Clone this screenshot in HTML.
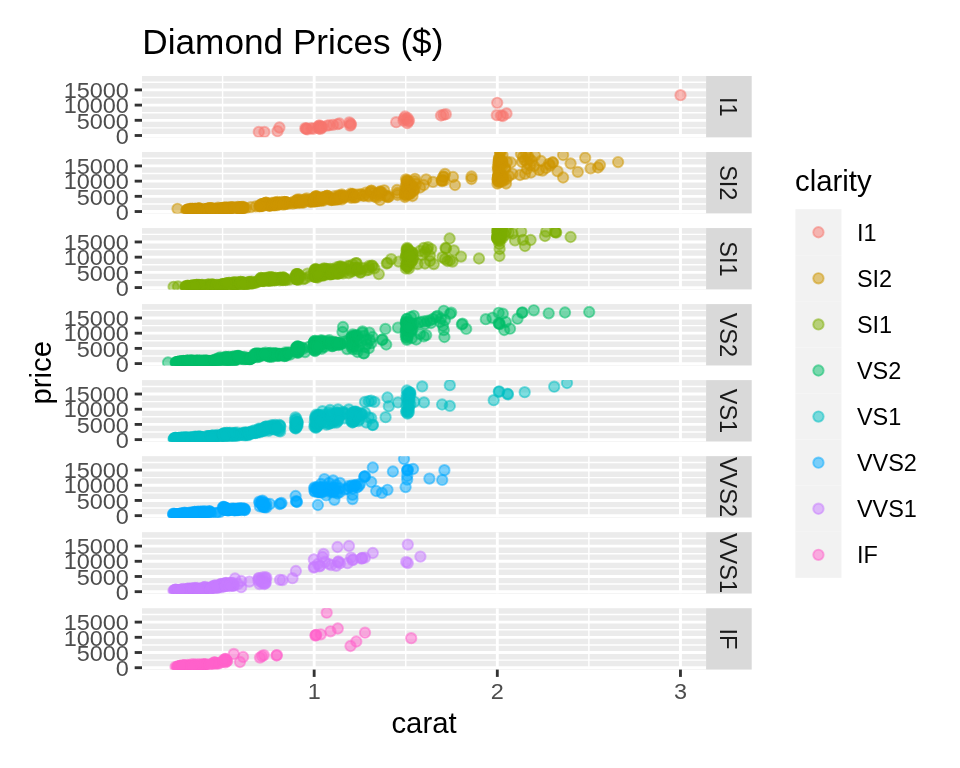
<!DOCTYPE html><html><head><meta charset="utf-8"><title>Diamond Prices</title>
<style>html,body{margin:0;padding:0;background:#fff;}body{width:960px;height:768px;overflow:hidden;font-family:"Liberation Sans",sans-serif;}svg{display:block;will-change:transform;}text{font-family:"Liberation Sans",sans-serif;}</style></head><body>
<svg width="960" height="768" viewBox="0 0 960 768">
<rect width="960" height="768" fill="#ffffff"/>
<text transform="translate(142.30,53.90) scale(1,1.01)" font-size="35.2" fill="#000">Diamond Prices ($)</text>
<defs>
<clipPath id="cp0"><rect x="142.0" y="76.00" width="564.10" height="61.37"/></clipPath>
<clipPath id="cp1"><rect x="142.0" y="152.03" width="564.10" height="61.37"/></clipPath>
<clipPath id="cp2"><rect x="142.0" y="228.06" width="564.10" height="61.37"/></clipPath>
<clipPath id="cp3"><rect x="142.0" y="304.09" width="564.10" height="61.37"/></clipPath>
<clipPath id="cp4"><rect x="142.0" y="380.12" width="564.10" height="61.37"/></clipPath>
<clipPath id="cp5"><rect x="142.0" y="456.15" width="564.10" height="61.37"/></clipPath>
<clipPath id="cp6"><rect x="142.0" y="532.18" width="564.10" height="61.37"/></clipPath>
<clipPath id="cp7"><rect x="142.0" y="608.21" width="564.10" height="61.37"/></clipPath>
</defs>
<rect x="142.0" y="76.00" width="564.10" height="61.37" fill="#EBEBEB"/>
<g clip-path="url(#cp0)">
<line x1="142.0" x2="706.1" y1="127.90" y2="127.90" stroke="#fff" stroke-width="1.43"/>
<line x1="142.0" x2="706.1" y1="112.70" y2="112.70" stroke="#fff" stroke-width="1.43"/>
<line x1="142.0" x2="706.1" y1="97.50" y2="97.50" stroke="#fff" stroke-width="1.43"/>
<line x1="142.0" x2="706.1" y1="82.30" y2="82.30" stroke="#fff" stroke-width="1.43"/>
<line x1="222.59" x2="222.59" y1="76.00" y2="137.37" stroke="#fff" stroke-width="1.43"/>
<line x1="405.74" x2="405.74" y1="76.00" y2="137.37" stroke="#fff" stroke-width="1.43"/>
<line x1="588.89" x2="588.89" y1="76.00" y2="137.37" stroke="#fff" stroke-width="1.43"/>
<line x1="142.0" x2="706.1" y1="135.50" y2="135.50" stroke="#fff" stroke-width="2.85"/>
<line x1="142.0" x2="706.1" y1="120.30" y2="120.30" stroke="#fff" stroke-width="2.85"/>
<line x1="142.0" x2="706.1" y1="105.10" y2="105.10" stroke="#fff" stroke-width="2.85"/>
<line x1="142.0" x2="706.1" y1="89.90" y2="89.90" stroke="#fff" stroke-width="2.85"/>
<line x1="314.16" x2="314.16" y1="76.00" y2="137.37" stroke="#fff" stroke-width="2.85"/>
<line x1="497.31" x2="497.31" y1="76.00" y2="137.37" stroke="#fff" stroke-width="2.85"/>
<line x1="680.46" x2="680.46" y1="76.00" y2="137.37" stroke="#fff" stroke-width="2.85"/>
<g fill="#F8766D" stroke="#F8766D" fill-opacity="0.5" stroke-opacity="0.5" stroke-width="1.89">
<circle cx="258.8" cy="131.9" r="5.21"/>
<circle cx="264.4" cy="131.9" r="5.21"/>
<circle cx="277.5" cy="131.2" r="5.21"/>
<circle cx="279.4" cy="127.5" r="5.21"/>
<circle cx="305.3" cy="128.2" r="5.21"/>
<circle cx="306.0" cy="129.0" r="5.21"/>
<circle cx="306.6" cy="128.4" r="5.21"/>
<circle cx="307.5" cy="129.3" r="5.21"/>
<circle cx="311.5" cy="128.2" r="5.21"/>
<circle cx="313.0" cy="128.8" r="5.21"/>
<circle cx="317.5" cy="127.5" r="5.21"/>
<circle cx="318.5" cy="126.0" r="5.21"/>
<circle cx="319.0" cy="128.5" r="5.21"/>
<circle cx="319.5" cy="125.5" r="5.21"/>
<circle cx="320.0" cy="127.0" r="5.21"/>
<circle cx="320.5" cy="128.9" r="5.21"/>
<circle cx="321.0" cy="126.4" r="5.21"/>
<circle cx="321.5" cy="127.8" r="5.21"/>
<circle cx="322.3" cy="126.8" r="5.21"/>
<circle cx="327.0" cy="125.6" r="5.21"/>
<circle cx="329.5" cy="125.2" r="5.21"/>
<circle cx="333.0" cy="124.8" r="5.21"/>
<circle cx="337.5" cy="124.2" r="5.21"/>
<circle cx="339.5" cy="123.5" r="5.21"/>
<circle cx="349.3" cy="122.4" r="5.21"/>
<circle cx="350.5" cy="123.6" r="5.21"/>
<circle cx="350.0" cy="125.7" r="5.21"/>
<circle cx="351.0" cy="124.6" r="5.21"/>
<circle cx="396.2" cy="122.2" r="5.21"/>
<circle cx="405.0" cy="116.5" r="5.21"/>
<circle cx="404.0" cy="118.5" r="5.21"/>
<circle cx="406.5" cy="119.5" r="5.21"/>
<circle cx="408.0" cy="121.5" r="5.21"/>
<circle cx="403.5" cy="120.5" r="5.21"/>
<circle cx="407.5" cy="118.0" r="5.21"/>
<circle cx="407.3" cy="123.2" r="5.21"/>
<circle cx="409.0" cy="120.5" r="5.21"/>
<circle cx="441.0" cy="115.5" r="5.21"/>
<circle cx="443.5" cy="114.8" r="5.21"/>
<circle cx="445.8" cy="114.2" r="5.21"/>
<circle cx="497.2" cy="102.8" r="5.21"/>
<circle cx="496.8" cy="115.2" r="5.21"/>
<circle cx="503.0" cy="116.0" r="5.21"/>
<circle cx="506.5" cy="113.5" r="5.21"/>
<circle cx="501.0" cy="115.5" r="5.21"/>
<circle cx="680.5" cy="95.2" r="5.21"/>
</g></g>
<rect x="706.1" y="76.00" width="45.60" height="61.37" fill="#D9D9D9"/>
<text transform="translate(719.90,106.78) rotate(90) scale(1,1.0)" text-anchor="middle" font-size="23.47" fill="#1A1A1A">I1</text>
<line x1="134.67" x2="142.0" y1="135.50" y2="135.50" stroke="#333" stroke-width="2.85"/>
<text transform="translate(128.90,143.70) scale(1,0.95)" text-anchor="end" font-size="23.47" fill="#4D4D4D">0</text>
<line x1="134.67" x2="142.0" y1="120.30" y2="120.30" stroke="#333" stroke-width="2.85"/>
<text transform="translate(128.90,128.50) scale(1,0.95)" text-anchor="end" font-size="23.47" fill="#4D4D4D">5000</text>
<line x1="134.67" x2="142.0" y1="105.10" y2="105.10" stroke="#333" stroke-width="2.85"/>
<text transform="translate(128.90,113.30) scale(1,0.95)" text-anchor="end" font-size="23.47" fill="#4D4D4D">10000</text>
<line x1="134.67" x2="142.0" y1="89.90" y2="89.90" stroke="#333" stroke-width="2.85"/>
<text transform="translate(128.90,98.10) scale(1,0.95)" text-anchor="end" font-size="23.47" fill="#4D4D4D">15000</text>
<rect x="142.0" y="152.03" width="564.10" height="61.37" fill="#EBEBEB"/>
<g clip-path="url(#cp1)">
<line x1="142.0" x2="706.1" y1="203.93" y2="203.93" stroke="#fff" stroke-width="1.43"/>
<line x1="142.0" x2="706.1" y1="188.73" y2="188.73" stroke="#fff" stroke-width="1.43"/>
<line x1="142.0" x2="706.1" y1="173.53" y2="173.53" stroke="#fff" stroke-width="1.43"/>
<line x1="142.0" x2="706.1" y1="158.33" y2="158.33" stroke="#fff" stroke-width="1.43"/>
<line x1="222.59" x2="222.59" y1="152.03" y2="213.40" stroke="#fff" stroke-width="1.43"/>
<line x1="405.74" x2="405.74" y1="152.03" y2="213.40" stroke="#fff" stroke-width="1.43"/>
<line x1="588.89" x2="588.89" y1="152.03" y2="213.40" stroke="#fff" stroke-width="1.43"/>
<line x1="142.0" x2="706.1" y1="211.53" y2="211.53" stroke="#fff" stroke-width="2.85"/>
<line x1="142.0" x2="706.1" y1="196.33" y2="196.33" stroke="#fff" stroke-width="2.85"/>
<line x1="142.0" x2="706.1" y1="181.13" y2="181.13" stroke="#fff" stroke-width="2.85"/>
<line x1="142.0" x2="706.1" y1="165.93" y2="165.93" stroke="#fff" stroke-width="2.85"/>
<line x1="314.16" x2="314.16" y1="152.03" y2="213.40" stroke="#fff" stroke-width="2.85"/>
<line x1="497.31" x2="497.31" y1="152.03" y2="213.40" stroke="#fff" stroke-width="2.85"/>
<line x1="680.46" x2="680.46" y1="152.03" y2="213.40" stroke="#fff" stroke-width="2.85"/>
<g fill="#CD9600" stroke="#CD9600" fill-opacity="0.5" stroke-opacity="0.5" stroke-width="1.89">
<circle cx="177.5" cy="208.8" r="5.21"/>
<circle cx="209.7" cy="208.3" r="5.21"/>
<circle cx="188.2" cy="209.9" r="5.21"/>
<circle cx="198.8" cy="209.1" r="5.21"/>
<circle cx="205.4" cy="209.7" r="5.21"/>
<circle cx="200.6" cy="209.1" r="5.21"/>
<circle cx="187.7" cy="210.0" r="5.21"/>
<circle cx="190.5" cy="210.1" r="5.21"/>
<circle cx="192.3" cy="209.1" r="5.21"/>
<circle cx="205.7" cy="209.5" r="5.21"/>
<circle cx="209.4" cy="209.5" r="5.21"/>
<circle cx="206.4" cy="209.8" r="5.21"/>
<circle cx="195.3" cy="208.8" r="5.21"/>
<circle cx="198.5" cy="208.4" r="5.21"/>
<circle cx="203.5" cy="208.9" r="5.21"/>
<circle cx="193.3" cy="210.1" r="5.21"/>
<circle cx="190.4" cy="209.8" r="5.21"/>
<circle cx="199.2" cy="208.3" r="5.21"/>
<circle cx="199.1" cy="208.5" r="5.21"/>
<circle cx="203.4" cy="209.8" r="5.21"/>
<circle cx="206.7" cy="209.7" r="5.21"/>
<circle cx="188.3" cy="209.5" r="5.21"/>
<circle cx="201.4" cy="209.6" r="5.21"/>
<circle cx="195.3" cy="209.0" r="5.21"/>
<circle cx="191.2" cy="209.1" r="5.21"/>
<circle cx="205.1" cy="209.9" r="5.21"/>
<circle cx="192.7" cy="208.9" r="5.21"/>
<circle cx="193.0" cy="209.7" r="5.21"/>
<circle cx="186.6" cy="210.3" r="5.21"/>
<circle cx="192.7" cy="209.0" r="5.21"/>
<circle cx="191.3" cy="209.4" r="5.21"/>
<circle cx="187.7" cy="209.4" r="5.21"/>
<circle cx="194.4" cy="208.9" r="5.21"/>
<circle cx="208.0" cy="209.0" r="5.21"/>
<circle cx="207.1" cy="208.8" r="5.21"/>
<circle cx="194.7" cy="209.3" r="5.21"/>
<circle cx="190.7" cy="210.1" r="5.21"/>
<circle cx="189.8" cy="209.8" r="5.21"/>
<circle cx="189.8" cy="209.8" r="5.21"/>
<circle cx="197.7" cy="209.5" r="5.21"/>
<circle cx="191.0" cy="209.3" r="5.21"/>
<circle cx="195.4" cy="208.9" r="5.21"/>
<circle cx="208.1" cy="208.7" r="5.21"/>
<circle cx="186.6" cy="210.0" r="5.21"/>
<circle cx="189.2" cy="209.9" r="5.21"/>
<circle cx="209.1" cy="208.7" r="5.21"/>
<circle cx="207.8" cy="208.8" r="5.21"/>
<circle cx="207.1" cy="208.7" r="5.21"/>
<circle cx="207.1" cy="209.5" r="5.21"/>
<circle cx="196.7" cy="209.6" r="5.21"/>
<circle cx="190.9" cy="208.6" r="5.21"/>
<circle cx="194.9" cy="210.2" r="5.21"/>
<circle cx="191.0" cy="209.6" r="5.21"/>
<circle cx="228.2" cy="207.4" r="5.21"/>
<circle cx="218.0" cy="207.7" r="5.21"/>
<circle cx="230.7" cy="207.6" r="5.21"/>
<circle cx="229.3" cy="209.3" r="5.21"/>
<circle cx="221.0" cy="208.3" r="5.21"/>
<circle cx="216.4" cy="209.1" r="5.21"/>
<circle cx="224.6" cy="207.5" r="5.21"/>
<circle cx="223.5" cy="209.0" r="5.21"/>
<circle cx="226.2" cy="209.6" r="5.21"/>
<circle cx="226.0" cy="207.7" r="5.21"/>
<circle cx="216.9" cy="208.6" r="5.21"/>
<circle cx="213.9" cy="209.2" r="5.21"/>
<circle cx="228.0" cy="208.1" r="5.21"/>
<circle cx="232.0" cy="207.5" r="5.21"/>
<circle cx="211.2" cy="209.9" r="5.21"/>
<circle cx="229.0" cy="209.1" r="5.21"/>
<circle cx="210.1" cy="208.1" r="5.21"/>
<circle cx="220.2" cy="208.5" r="5.21"/>
<circle cx="226.0" cy="209.3" r="5.21"/>
<circle cx="220.1" cy="209.4" r="5.21"/>
<circle cx="230.1" cy="208.9" r="5.21"/>
<circle cx="224.3" cy="208.5" r="5.21"/>
<circle cx="230.8" cy="207.3" r="5.21"/>
<circle cx="215.1" cy="209.7" r="5.21"/>
<circle cx="222.5" cy="208.8" r="5.21"/>
<circle cx="231.8" cy="207.5" r="5.21"/>
<circle cx="221.8" cy="209.6" r="5.21"/>
<circle cx="228.5" cy="207.9" r="5.21"/>
<circle cx="225.7" cy="208.3" r="5.21"/>
<circle cx="212.3" cy="209.5" r="5.21"/>
<circle cx="222.5" cy="208.6" r="5.21"/>
<circle cx="211.3" cy="208.2" r="5.21"/>
<circle cx="222.6" cy="208.5" r="5.21"/>
<circle cx="230.0" cy="209.3" r="5.21"/>
<circle cx="221.1" cy="208.3" r="5.21"/>
<circle cx="215.6" cy="209.4" r="5.21"/>
<circle cx="227.9" cy="208.9" r="5.21"/>
<circle cx="221.8" cy="208.2" r="5.21"/>
<circle cx="229.5" cy="209.4" r="5.21"/>
<circle cx="211.0" cy="208.1" r="5.21"/>
<circle cx="214.2" cy="208.6" r="5.21"/>
<circle cx="223.2" cy="208.6" r="5.21"/>
<circle cx="217.3" cy="209.0" r="5.21"/>
<circle cx="228.3" cy="209.0" r="5.21"/>
<circle cx="227.6" cy="208.3" r="5.21"/>
<circle cx="213.9" cy="209.2" r="5.21"/>
<circle cx="212.3" cy="209.0" r="5.21"/>
<circle cx="224.1" cy="207.9" r="5.21"/>
<circle cx="241.2" cy="208.9" r="5.21"/>
<circle cx="243.8" cy="207.7" r="5.21"/>
<circle cx="235.0" cy="209.2" r="5.21"/>
<circle cx="239.7" cy="208.1" r="5.21"/>
<circle cx="241.4" cy="208.4" r="5.21"/>
<circle cx="242.0" cy="207.0" r="5.21"/>
<circle cx="240.0" cy="208.3" r="5.21"/>
<circle cx="243.7" cy="207.8" r="5.21"/>
<circle cx="237.8" cy="207.0" r="5.21"/>
<circle cx="242.6" cy="209.0" r="5.21"/>
<circle cx="240.1" cy="208.6" r="5.21"/>
<circle cx="239.0" cy="208.0" r="5.21"/>
<circle cx="235.9" cy="208.3" r="5.21"/>
<circle cx="238.4" cy="208.2" r="5.21"/>
<circle cx="238.9" cy="207.2" r="5.21"/>
<circle cx="240.1" cy="209.0" r="5.21"/>
<circle cx="238.2" cy="208.6" r="5.21"/>
<circle cx="242.8" cy="208.1" r="5.21"/>
<circle cx="243.5" cy="207.0" r="5.21"/>
<circle cx="240.5" cy="208.6" r="5.21"/>
<circle cx="242.0" cy="208.5" r="5.21"/>
<circle cx="239.9" cy="207.2" r="5.21"/>
<circle cx="236.1" cy="207.9" r="5.21"/>
<circle cx="234.2" cy="207.1" r="5.21"/>
<circle cx="241.3" cy="207.1" r="5.21"/>
<circle cx="239.0" cy="209.0" r="5.21"/>
<circle cx="255.9" cy="206.3" r="5.21"/>
<circle cx="246.0" cy="208.1" r="5.21"/>
<circle cx="250.9" cy="207.1" r="5.21"/>
<circle cx="271.8" cy="202.8" r="5.21"/>
<circle cx="260.2" cy="205.8" r="5.21"/>
<circle cx="265.9" cy="204.2" r="5.21"/>
<circle cx="269.5" cy="205.3" r="5.21"/>
<circle cx="266.9" cy="204.2" r="5.21"/>
<circle cx="259.9" cy="206.0" r="5.21"/>
<circle cx="261.4" cy="206.0" r="5.21"/>
<circle cx="262.4" cy="204.2" r="5.21"/>
<circle cx="269.7" cy="205.0" r="5.21"/>
<circle cx="271.7" cy="204.9" r="5.21"/>
<circle cx="270.0" cy="205.4" r="5.21"/>
<circle cx="264.0" cy="203.6" r="5.21"/>
<circle cx="265.8" cy="202.8" r="5.21"/>
<circle cx="268.5" cy="203.9" r="5.21"/>
<circle cx="262.9" cy="206.0" r="5.21"/>
<circle cx="261.4" cy="205.6" r="5.21"/>
<circle cx="266.1" cy="202.7" r="5.21"/>
<circle cx="266.1" cy="203.0" r="5.21"/>
<circle cx="268.4" cy="205.4" r="5.21"/>
<circle cx="270.2" cy="205.3" r="5.21"/>
<circle cx="260.2" cy="205.0" r="5.21"/>
<circle cx="267.3" cy="205.2" r="5.21"/>
<circle cx="264.0" cy="204.0" r="5.21"/>
<circle cx="261.8" cy="204.2" r="5.21"/>
<circle cx="269.3" cy="205.7" r="5.21"/>
<circle cx="262.6" cy="203.8" r="5.21"/>
<circle cx="262.8" cy="205.3" r="5.21"/>
<circle cx="259.3" cy="206.4" r="5.21"/>
<circle cx="276.2" cy="203.0" r="5.21"/>
<circle cx="275.3" cy="203.9" r="5.21"/>
<circle cx="273.1" cy="203.9" r="5.21"/>
<circle cx="277.3" cy="202.8" r="5.21"/>
<circle cx="285.8" cy="202.9" r="5.21"/>
<circle cx="285.2" cy="202.6" r="5.21"/>
<circle cx="277.5" cy="203.7" r="5.21"/>
<circle cx="274.9" cy="205.3" r="5.21"/>
<circle cx="274.4" cy="204.6" r="5.21"/>
<circle cx="274.4" cy="204.7" r="5.21"/>
<circle cx="279.3" cy="204.0" r="5.21"/>
<circle cx="275.2" cy="203.7" r="5.21"/>
<circle cx="277.9" cy="202.9" r="5.21"/>
<circle cx="285.8" cy="202.5" r="5.21"/>
<circle cx="272.4" cy="205.3" r="5.21"/>
<circle cx="274.0" cy="204.8" r="5.21"/>
<circle cx="286.5" cy="202.5" r="5.21"/>
<circle cx="285.6" cy="202.6" r="5.21"/>
<circle cx="285.2" cy="202.5" r="5.21"/>
<circle cx="285.2" cy="203.7" r="5.21"/>
<circle cx="278.7" cy="204.1" r="5.21"/>
<circle cx="275.0" cy="202.3" r="5.21"/>
<circle cx="277.5" cy="205.2" r="5.21"/>
<circle cx="275.1" cy="204.3" r="5.21"/>
<circle cx="284.4" cy="201.8" r="5.21"/>
<circle cx="277.4" cy="201.9" r="5.21"/>
<circle cx="286.1" cy="202.1" r="5.21"/>
<circle cx="285.1" cy="204.2" r="5.21"/>
<circle cx="279.5" cy="203.0" r="5.21"/>
<circle cx="276.4" cy="204.1" r="5.21"/>
<circle cx="281.9" cy="201.8" r="5.21"/>
<circle cx="281.2" cy="203.9" r="5.21"/>
<circle cx="283.1" cy="204.7" r="5.21"/>
<circle cx="293.9" cy="201.5" r="5.21"/>
<circle cx="287.7" cy="203.9" r="5.21"/>
<circle cx="290.7" cy="202.8" r="5.21"/>
<circle cx="292.7" cy="203.6" r="5.21"/>
<circle cx="299.9" cy="199.6" r="5.21"/>
<circle cx="295.9" cy="202.5" r="5.21"/>
<circle cx="297.9" cy="200.9" r="5.21"/>
<circle cx="299.1" cy="202.4" r="5.21"/>
<circle cx="298.2" cy="201.0" r="5.21"/>
<circle cx="295.8" cy="202.7" r="5.21"/>
<circle cx="296.3" cy="202.9" r="5.21"/>
<circle cx="296.7" cy="200.7" r="5.21"/>
<circle cx="299.2" cy="202.0" r="5.21"/>
<circle cx="299.9" cy="202.0" r="5.21"/>
<circle cx="299.3" cy="202.5" r="5.21"/>
<circle cx="297.2" cy="200.1" r="5.21"/>
<circle cx="297.8" cy="199.3" r="5.21"/>
<circle cx="312.8" cy="198.3" r="5.21"/>
<circle cx="301.2" cy="202.1" r="5.21"/>
<circle cx="306.9" cy="200.2" r="5.21"/>
<circle cx="310.5" cy="201.7" r="5.21"/>
<circle cx="307.9" cy="200.2" r="5.21"/>
<circle cx="300.9" cy="202.4" r="5.21"/>
<circle cx="302.4" cy="202.5" r="5.21"/>
<circle cx="303.4" cy="200.1" r="5.21"/>
<circle cx="310.7" cy="201.2" r="5.21"/>
<circle cx="312.7" cy="201.2" r="5.21"/>
<circle cx="311.0" cy="201.8" r="5.21"/>
<circle cx="305.0" cy="199.4" r="5.21"/>
<circle cx="306.8" cy="198.4" r="5.21"/>
<circle cx="309.5" cy="199.8" r="5.21"/>
<circle cx="303.9" cy="202.5" r="5.21"/>
<circle cx="317.9" cy="196.9" r="5.21"/>
<circle cx="313.9" cy="200.8" r="5.21"/>
<circle cx="315.9" cy="198.6" r="5.21"/>
<circle cx="317.1" cy="200.8" r="5.21"/>
<circle cx="316.2" cy="198.8" r="5.21"/>
<circle cx="313.8" cy="201.2" r="5.21"/>
<circle cx="314.3" cy="201.4" r="5.21"/>
<circle cx="314.7" cy="198.2" r="5.21"/>
<circle cx="317.2" cy="200.3" r="5.21"/>
<circle cx="317.9" cy="200.4" r="5.21"/>
<circle cx="317.3" cy="201.0" r="5.21"/>
<circle cx="315.2" cy="197.4" r="5.21"/>
<circle cx="315.8" cy="196.3" r="5.21"/>
<circle cx="316.8" cy="198.4" r="5.21"/>
<circle cx="314.9" cy="201.5" r="5.21"/>
<circle cx="314.3" cy="200.6" r="5.21"/>
<circle cx="316.0" cy="196.2" r="5.21"/>
<circle cx="316.0" cy="196.6" r="5.21"/>
<circle cx="334.8" cy="196.2" r="5.21"/>
<circle cx="319.6" cy="200.3" r="5.21"/>
<circle cx="327.1" cy="197.9" r="5.21"/>
<circle cx="331.7" cy="199.5" r="5.21"/>
<circle cx="328.4" cy="198.0" r="5.21"/>
<circle cx="319.2" cy="200.7" r="5.21"/>
<circle cx="321.2" cy="200.7" r="5.21"/>
<circle cx="322.5" cy="197.8" r="5.21"/>
<circle cx="331.9" cy="199.1" r="5.21"/>
<circle cx="334.6" cy="199.0" r="5.21"/>
<circle cx="332.4" cy="199.6" r="5.21"/>
<circle cx="324.6" cy="197.0" r="5.21"/>
<circle cx="326.9" cy="195.9" r="5.21"/>
<circle cx="330.4" cy="197.6" r="5.21"/>
<circle cx="323.2" cy="200.7" r="5.21"/>
<circle cx="321.1" cy="200.0" r="5.21"/>
<circle cx="327.3" cy="195.8" r="5.21"/>
<circle cx="327.3" cy="196.2" r="5.21"/>
<circle cx="330.4" cy="199.6" r="5.21"/>
<circle cx="332.7" cy="199.5" r="5.21"/>
<circle cx="319.6" cy="199.1" r="5.21"/>
<circle cx="328.9" cy="199.3" r="5.21"/>
<circle cx="324.6" cy="197.6" r="5.21"/>
<circle cx="321.7" cy="197.9" r="5.21"/>
<circle cx="331.5" cy="200.0" r="5.21"/>
<circle cx="322.7" cy="197.2" r="5.21"/>
<circle cx="323.0" cy="199.5" r="5.21"/>
<circle cx="335.4" cy="199.9" r="5.21"/>
<circle cx="340.2" cy="196.2" r="5.21"/>
<circle cx="339.1" cy="197.5" r="5.21"/>
<circle cx="336.3" cy="197.6" r="5.21"/>
<circle cx="341.6" cy="195.8" r="5.21"/>
<circle cx="352.2" cy="195.5" r="5.21"/>
<circle cx="351.5" cy="194.9" r="5.21"/>
<circle cx="341.8" cy="197.0" r="5.21"/>
<circle cx="338.7" cy="199.4" r="5.21"/>
<circle cx="338.0" cy="198.5" r="5.21"/>
<circle cx="337.9" cy="198.6" r="5.21"/>
<circle cx="344.1" cy="197.5" r="5.21"/>
<circle cx="338.9" cy="197.2" r="5.21"/>
<circle cx="342.4" cy="195.9" r="5.21"/>
<circle cx="352.2" cy="194.7" r="5.21"/>
<circle cx="335.5" cy="199.4" r="5.21"/>
<circle cx="337.5" cy="198.8" r="5.21"/>
<circle cx="353.1" cy="194.6" r="5.21"/>
<circle cx="352.0" cy="195.0" r="5.21"/>
<circle cx="351.5" cy="194.7" r="5.21"/>
<circle cx="351.5" cy="196.9" r="5.21"/>
<circle cx="343.3" cy="197.6" r="5.21"/>
<circle cx="338.8" cy="195.3" r="5.21"/>
<circle cx="341.9" cy="199.4" r="5.21"/>
<circle cx="338.9" cy="198.0" r="5.21"/>
<circle cx="350.5" cy="193.6" r="5.21"/>
<circle cx="341.8" cy="194.5" r="5.21"/>
<circle cx="352.7" cy="194.0" r="5.21"/>
<circle cx="351.4" cy="197.8" r="5.21"/>
<circle cx="344.4" cy="196.0" r="5.21"/>
<circle cx="365.9" cy="192.6" r="5.21"/>
<circle cx="354.9" cy="197.0" r="5.21"/>
<circle cx="360.3" cy="194.4" r="5.21"/>
<circle cx="363.6" cy="195.9" r="5.21"/>
<circle cx="361.2" cy="194.5" r="5.21"/>
<circle cx="354.6" cy="197.4" r="5.21"/>
<circle cx="356.0" cy="197.4" r="5.21"/>
<circle cx="357.0" cy="194.4" r="5.21"/>
<circle cx="363.8" cy="195.5" r="5.21"/>
<circle cx="375.7" cy="195.6" r="5.21"/>
<circle cx="374.5" cy="196.3" r="5.21"/>
<circle cx="369.9" cy="192.3" r="5.21"/>
<circle cx="371.2" cy="190.9" r="5.21"/>
<circle cx="373.3" cy="193.0" r="5.21"/>
<circle cx="369.0" cy="196.4" r="5.21"/>
<circle cx="367.8" cy="195.5" r="5.21"/>
<circle cx="371.5" cy="190.7" r="5.21"/>
<circle cx="384.2" cy="190.3" r="5.21"/>
<circle cx="386.9" cy="196.4" r="5.21"/>
<circle cx="388.9" cy="196.5" r="5.21"/>
<circle cx="377.4" cy="194.2" r="5.21"/>
<circle cx="385.6" cy="195.7" r="5.21"/>
<circle cx="381.8" cy="192.4" r="5.21"/>
<circle cx="379.2" cy="192.6" r="5.21"/>
<circle cx="387.9" cy="197.2" r="5.21"/>
<circle cx="380.2" cy="191.5" r="5.21"/>
<circle cx="380.4" cy="195.2" r="5.21"/>
<circle cx="376.4" cy="197.4" r="5.21"/>
<circle cx="380.2" cy="192.0" r="5.21"/>
<circle cx="380.0" cy="200.0" r="5.21"/>
<circle cx="397.5" cy="193.0" r="5.21"/>
<circle cx="397.0" cy="190.0" r="5.21"/>
<circle cx="409.4" cy="182.1" r="5.21"/>
<circle cx="405.0" cy="193.3" r="5.21"/>
<circle cx="407.2" cy="187.3" r="5.21"/>
<circle cx="408.5" cy="193.5" r="5.21"/>
<circle cx="407.5" cy="187.8" r="5.21"/>
<circle cx="404.9" cy="194.3" r="5.21"/>
<circle cx="405.4" cy="194.9" r="5.21"/>
<circle cx="405.8" cy="186.3" r="5.21"/>
<circle cx="408.6" cy="191.9" r="5.21"/>
<circle cx="409.4" cy="192.2" r="5.21"/>
<circle cx="408.7" cy="194.0" r="5.21"/>
<circle cx="406.4" cy="184.1" r="5.21"/>
<circle cx="407.1" cy="180.8" r="5.21"/>
<circle cx="408.1" cy="186.5" r="5.21"/>
<circle cx="406.0" cy="195.3" r="5.21"/>
<circle cx="405.4" cy="192.9" r="5.21"/>
<circle cx="407.2" cy="180.5" r="5.21"/>
<circle cx="407.2" cy="181.8" r="5.21"/>
<circle cx="408.1" cy="193.6" r="5.21"/>
<circle cx="408.8" cy="193.5" r="5.21"/>
<circle cx="405.0" cy="189.9" r="5.21"/>
<circle cx="407.7" cy="192.2" r="5.21"/>
<circle cx="414.4" cy="181.2" r="5.21"/>
<circle cx="410.0" cy="192.5" r="5.21"/>
<circle cx="412.2" cy="185.8" r="5.21"/>
<circle cx="413.5" cy="191.1" r="5.21"/>
<circle cx="412.5" cy="186.3" r="5.21"/>
<circle cx="409.9" cy="193.5" r="5.21"/>
<circle cx="410.4" cy="193.9" r="5.21"/>
<circle cx="410.8" cy="185.1" r="5.21"/>
<circle cx="413.6" cy="189.6" r="5.21"/>
<circle cx="414.4" cy="189.6" r="5.21"/>
<circle cx="406.0" cy="179.4" r="5.21"/>
<circle cx="415.0" cy="178.8" r="5.21"/>
<circle cx="405.0" cy="197.0" r="5.21"/>
<circle cx="412.5" cy="196.0" r="5.21"/>
<circle cx="416.0" cy="184.0" r="5.21"/>
<circle cx="397.5" cy="195.0" r="5.21"/>
<circle cx="426.2" cy="179.4" r="5.21"/>
<circle cx="423.8" cy="185.0" r="5.21"/>
<circle cx="420.0" cy="187.5" r="5.21"/>
<circle cx="433.0" cy="181.9" r="5.21"/>
<circle cx="453.0" cy="177.0" r="5.21"/>
<circle cx="455.0" cy="185.0" r="5.21"/>
<circle cx="445.0" cy="173.9" r="5.21"/>
<circle cx="441.8" cy="180.1" r="5.21"/>
<circle cx="443.4" cy="176.6" r="5.21"/>
<circle cx="444.3" cy="180.3" r="5.21"/>
<circle cx="443.6" cy="176.9" r="5.21"/>
<circle cx="441.7" cy="180.7" r="5.21"/>
<circle cx="442.2" cy="181.1" r="5.21"/>
<circle cx="471.5" cy="176.5" r="5.21"/>
<circle cx="471.5" cy="179.0" r="5.21"/>
<circle cx="502.5" cy="155.3" r="5.21"/>
<circle cx="497.9" cy="177.6" r="5.21"/>
<circle cx="500.2" cy="164.9" r="5.21"/>
<circle cx="501.6" cy="178.2" r="5.21"/>
<circle cx="500.6" cy="166.1" r="5.21"/>
<circle cx="497.8" cy="179.7" r="5.21"/>
<circle cx="498.4" cy="181.1" r="5.21"/>
<circle cx="498.8" cy="162.5" r="5.21"/>
<circle cx="501.7" cy="174.8" r="5.21"/>
<circle cx="502.5" cy="175.6" r="5.21"/>
<circle cx="501.8" cy="179.2" r="5.21"/>
<circle cx="499.4" cy="157.8" r="5.21"/>
<circle cx="500.1" cy="151.3" r="5.21"/>
<circle cx="501.2" cy="163.6" r="5.21"/>
<circle cx="499.0" cy="181.9" r="5.21"/>
<circle cx="498.4" cy="176.6" r="5.21"/>
<circle cx="500.3" cy="150.7" r="5.21"/>
<circle cx="500.2" cy="153.5" r="5.21"/>
<circle cx="501.2" cy="178.3" r="5.21"/>
<circle cx="501.9" cy="178.1" r="5.21"/>
<circle cx="497.9" cy="170.0" r="5.21"/>
<circle cx="500.7" cy="175.4" r="5.21"/>
<circle cx="499.4" cy="162.0" r="5.21"/>
<circle cx="498.5" cy="162.9" r="5.21"/>
<circle cx="501.5" cy="181.3" r="5.21"/>
<circle cx="498.9" cy="158.4" r="5.21"/>
<circle cx="498.9" cy="174.0" r="5.21"/>
<circle cx="497.5" cy="183.7" r="5.21"/>
<circle cx="498.8" cy="160.3" r="5.21"/>
<circle cx="498.5" cy="168.7" r="5.21"/>
<circle cx="497.8" cy="166.8" r="5.21"/>
<circle cx="499.2" cy="159.4" r="5.21"/>
<circle cx="502.2" cy="166.5" r="5.21"/>
<circle cx="502.0" cy="162.1" r="5.21"/>
<circle cx="499.3" cy="167.8" r="5.21"/>
<circle cx="498.4" cy="182.1" r="5.21"/>
<circle cx="498.2" cy="175.0" r="5.21"/>
<circle cx="498.2" cy="176.0" r="5.21"/>
<circle cx="499.9" cy="172.9" r="5.21"/>
<circle cx="498.5" cy="166.4" r="5.21"/>
<circle cx="499.4" cy="160.7" r="5.21"/>
<circle cx="502.2" cy="161.6" r="5.21"/>
<circle cx="497.5" cy="179.5" r="5.21"/>
<circle cx="498.1" cy="176.5" r="5.21"/>
<circle cx="502.4" cy="161.7" r="5.21"/>
<circle cx="502.1" cy="162.9" r="5.21"/>
<circle cx="506.9" cy="161.9" r="5.21"/>
<circle cx="503.0" cy="177.6" r="5.21"/>
<circle cx="504.9" cy="167.6" r="5.21"/>
<circle cx="506.2" cy="178.9" r="5.21"/>
<circle cx="505.3" cy="168.8" r="5.21"/>
<circle cx="502.9" cy="179.4" r="5.21"/>
<circle cx="503.4" cy="180.8" r="5.21"/>
<circle cx="511.0" cy="162.5" r="5.21"/>
<circle cx="512.5" cy="173.8" r="5.21"/>
<circle cx="520.0" cy="175.0" r="5.21"/>
<circle cx="525.0" cy="173.8" r="5.21"/>
<circle cx="531.0" cy="172.5" r="5.21"/>
<circle cx="509.0" cy="176.0" r="5.21"/>
<circle cx="527.0" cy="169.0" r="5.21"/>
<circle cx="534.0" cy="166.0" r="5.21"/>
<circle cx="506.0" cy="183.5" r="5.21"/>
<circle cx="521.0" cy="154.0" r="5.21"/>
<circle cx="523.0" cy="157.0" r="5.21"/>
<circle cx="524.5" cy="160.0" r="5.21"/>
<circle cx="526.0" cy="153.5" r="5.21"/>
<circle cx="527.0" cy="163.0" r="5.21"/>
<circle cx="528.0" cy="156.0" r="5.21"/>
<circle cx="529.5" cy="159.0" r="5.21"/>
<circle cx="530.0" cy="165.0" r="5.21"/>
<circle cx="522.0" cy="162.0" r="5.21"/>
<circle cx="532.0" cy="161.0" r="5.21"/>
<circle cx="535.0" cy="155.6" r="5.21"/>
<circle cx="541.0" cy="161.0" r="5.21"/>
<circle cx="539.0" cy="170.0" r="5.21"/>
<circle cx="542.5" cy="170.6" r="5.21"/>
<circle cx="549.0" cy="163.8" r="5.21"/>
<circle cx="553.0" cy="162.5" r="5.21"/>
<circle cx="550.0" cy="165.6" r="5.21"/>
<circle cx="546.0" cy="168.0" r="5.21"/>
<circle cx="557.5" cy="171.2" r="5.21"/>
<circle cx="563.1" cy="177.5" r="5.21"/>
<circle cx="563.1" cy="155.0" r="5.21"/>
<circle cx="552.5" cy="162.5" r="5.21"/>
<circle cx="570.6" cy="163.5" r="5.21"/>
<circle cx="577.8" cy="171.9" r="5.21"/>
<circle cx="585.2" cy="157.8" r="5.21"/>
<circle cx="590.6" cy="168.4" r="5.21"/>
<circle cx="598.0" cy="167.5" r="5.21"/>
<circle cx="600.0" cy="165.0" r="5.21"/>
<circle cx="618.1" cy="162.1" r="5.21"/>
</g></g>
<rect x="706.1" y="152.03" width="45.60" height="61.37" fill="#D9D9D9"/>
<text transform="translate(719.90,182.81) rotate(90) scale(1,1.0)" text-anchor="middle" font-size="23.47" fill="#1A1A1A">SI2</text>
<line x1="134.67" x2="142.0" y1="211.53" y2="211.53" stroke="#333" stroke-width="2.85"/>
<text transform="translate(128.90,219.73) scale(1,0.95)" text-anchor="end" font-size="23.47" fill="#4D4D4D">0</text>
<line x1="134.67" x2="142.0" y1="196.33" y2="196.33" stroke="#333" stroke-width="2.85"/>
<text transform="translate(128.90,204.53) scale(1,0.95)" text-anchor="end" font-size="23.47" fill="#4D4D4D">5000</text>
<line x1="134.67" x2="142.0" y1="181.13" y2="181.13" stroke="#333" stroke-width="2.85"/>
<text transform="translate(128.90,189.33) scale(1,0.95)" text-anchor="end" font-size="23.47" fill="#4D4D4D">10000</text>
<line x1="134.67" x2="142.0" y1="165.93" y2="165.93" stroke="#333" stroke-width="2.85"/>
<text transform="translate(128.90,174.13) scale(1,0.95)" text-anchor="end" font-size="23.47" fill="#4D4D4D">15000</text>
<rect x="142.0" y="228.06" width="564.10" height="61.37" fill="#EBEBEB"/>
<g clip-path="url(#cp2)">
<line x1="142.0" x2="706.1" y1="279.96" y2="279.96" stroke="#fff" stroke-width="1.43"/>
<line x1="142.0" x2="706.1" y1="264.76" y2="264.76" stroke="#fff" stroke-width="1.43"/>
<line x1="142.0" x2="706.1" y1="249.56" y2="249.56" stroke="#fff" stroke-width="1.43"/>
<line x1="142.0" x2="706.1" y1="234.36" y2="234.36" stroke="#fff" stroke-width="1.43"/>
<line x1="222.59" x2="222.59" y1="228.06" y2="289.43" stroke="#fff" stroke-width="1.43"/>
<line x1="405.74" x2="405.74" y1="228.06" y2="289.43" stroke="#fff" stroke-width="1.43"/>
<line x1="588.89" x2="588.89" y1="228.06" y2="289.43" stroke="#fff" stroke-width="1.43"/>
<line x1="142.0" x2="706.1" y1="287.56" y2="287.56" stroke="#fff" stroke-width="2.85"/>
<line x1="142.0" x2="706.1" y1="272.36" y2="272.36" stroke="#fff" stroke-width="2.85"/>
<line x1="142.0" x2="706.1" y1="257.16" y2="257.16" stroke="#fff" stroke-width="2.85"/>
<line x1="142.0" x2="706.1" y1="241.96" y2="241.96" stroke="#fff" stroke-width="2.85"/>
<line x1="314.16" x2="314.16" y1="228.06" y2="289.43" stroke="#fff" stroke-width="2.85"/>
<line x1="497.31" x2="497.31" y1="228.06" y2="289.43" stroke="#fff" stroke-width="2.85"/>
<line x1="680.46" x2="680.46" y1="228.06" y2="289.43" stroke="#fff" stroke-width="2.85"/>
<g fill="#7CAE00" stroke="#7CAE00" fill-opacity="0.5" stroke-opacity="0.5" stroke-width="1.89">
<circle cx="173.6" cy="286.8" r="5.21"/>
<circle cx="178.0" cy="286.5" r="5.21"/>
<circle cx="197.0" cy="286.4" r="5.21"/>
<circle cx="188.0" cy="285.9" r="5.21"/>
<circle cx="201.6" cy="284.9" r="5.21"/>
<circle cx="205.2" cy="285.7" r="5.21"/>
<circle cx="193.4" cy="286.6" r="5.21"/>
<circle cx="197.4" cy="285.6" r="5.21"/>
<circle cx="197.7" cy="285.0" r="5.21"/>
<circle cx="202.5" cy="285.0" r="5.21"/>
<circle cx="192.2" cy="285.3" r="5.21"/>
<circle cx="203.5" cy="286.0" r="5.21"/>
<circle cx="194.2" cy="286.4" r="5.21"/>
<circle cx="190.7" cy="285.9" r="5.21"/>
<circle cx="194.4" cy="286.6" r="5.21"/>
<circle cx="199.6" cy="286.0" r="5.21"/>
<circle cx="193.9" cy="285.4" r="5.21"/>
<circle cx="197.2" cy="286.6" r="5.21"/>
<circle cx="208.5" cy="284.7" r="5.21"/>
<circle cx="202.3" cy="285.4" r="5.21"/>
<circle cx="208.1" cy="286.5" r="5.21"/>
<circle cx="186.8" cy="286.7" r="5.21"/>
<circle cx="203.6" cy="286.4" r="5.21"/>
<circle cx="196.7" cy="285.0" r="5.21"/>
<circle cx="185.7" cy="286.2" r="5.21"/>
<circle cx="205.7" cy="285.4" r="5.21"/>
<circle cx="187.7" cy="286.9" r="5.21"/>
<circle cx="189.9" cy="286.1" r="5.21"/>
<circle cx="192.7" cy="286.7" r="5.21"/>
<circle cx="186.0" cy="287.0" r="5.21"/>
<circle cx="198.1" cy="286.5" r="5.21"/>
<circle cx="197.1" cy="285.3" r="5.21"/>
<circle cx="198.7" cy="285.6" r="5.21"/>
<circle cx="187.5" cy="285.7" r="5.21"/>
<circle cx="207.7" cy="284.6" r="5.21"/>
<circle cx="208.7" cy="284.7" r="5.21"/>
<circle cx="192.1" cy="286.6" r="5.21"/>
<circle cx="191.0" cy="286.2" r="5.21"/>
<circle cx="196.0" cy="286.7" r="5.21"/>
<circle cx="200.8" cy="285.6" r="5.21"/>
<circle cx="194.9" cy="286.0" r="5.21"/>
<circle cx="200.7" cy="286.1" r="5.21"/>
<circle cx="199.0" cy="285.0" r="5.21"/>
<circle cx="193.4" cy="286.8" r="5.21"/>
<circle cx="196.1" cy="286.2" r="5.21"/>
<circle cx="186.9" cy="286.8" r="5.21"/>
<circle cx="196.3" cy="285.0" r="5.21"/>
<circle cx="190.4" cy="285.9" r="5.21"/>
<circle cx="185.8" cy="286.9" r="5.21"/>
<circle cx="201.0" cy="286.7" r="5.21"/>
<circle cx="193.6" cy="285.2" r="5.21"/>
<circle cx="195.2" cy="286.1" r="5.21"/>
<circle cx="185.7" cy="286.7" r="5.21"/>
<circle cx="190.2" cy="286.5" r="5.21"/>
<circle cx="194.3" cy="286.8" r="5.21"/>
<circle cx="212.6" cy="284.5" r="5.21"/>
<circle cx="212.9" cy="285.2" r="5.21"/>
<circle cx="213.5" cy="285.1" r="5.21"/>
<circle cx="214.6" cy="286.5" r="5.21"/>
<circle cx="214.3" cy="286.0" r="5.21"/>
<circle cx="214.5" cy="285.9" r="5.21"/>
<circle cx="212.5" cy="285.5" r="5.21"/>
<circle cx="213.1" cy="286.1" r="5.21"/>
<circle cx="214.3" cy="286.2" r="5.21"/>
<circle cx="211.8" cy="284.5" r="5.21"/>
<circle cx="211.6" cy="286.1" r="5.21"/>
<circle cx="234.3" cy="282.4" r="5.21"/>
<circle cx="233.3" cy="282.4" r="5.21"/>
<circle cx="219.9" cy="286.0" r="5.21"/>
<circle cx="236.7" cy="284.8" r="5.21"/>
<circle cx="222.2" cy="285.2" r="5.21"/>
<circle cx="230.8" cy="284.5" r="5.21"/>
<circle cx="234.9" cy="284.9" r="5.21"/>
<circle cx="217.6" cy="286.1" r="5.21"/>
<circle cx="215.9" cy="286.2" r="5.21"/>
<circle cx="227.4" cy="285.1" r="5.21"/>
<circle cx="233.6" cy="285.1" r="5.21"/>
<circle cx="224.5" cy="284.8" r="5.21"/>
<circle cx="216.4" cy="286.2" r="5.21"/>
<circle cx="222.7" cy="284.2" r="5.21"/>
<circle cx="219.1" cy="286.1" r="5.21"/>
<circle cx="230.1" cy="285.5" r="5.21"/>
<circle cx="223.3" cy="285.7" r="5.21"/>
<circle cx="234.7" cy="285.2" r="5.21"/>
<circle cx="218.2" cy="286.2" r="5.21"/>
<circle cx="223.3" cy="285.6" r="5.21"/>
<circle cx="225.1" cy="284.0" r="5.21"/>
<circle cx="234.7" cy="285.2" r="5.21"/>
<circle cx="234.6" cy="285.0" r="5.21"/>
<circle cx="215.1" cy="286.1" r="5.21"/>
<circle cx="233.3" cy="284.9" r="5.21"/>
<circle cx="229.4" cy="283.0" r="5.21"/>
<circle cx="222.3" cy="285.5" r="5.21"/>
<circle cx="229.8" cy="285.1" r="5.21"/>
<circle cx="226.7" cy="283.3" r="5.21"/>
<circle cx="222.7" cy="284.5" r="5.21"/>
<circle cx="217.4" cy="284.9" r="5.21"/>
<circle cx="234.9" cy="284.9" r="5.21"/>
<circle cx="221.5" cy="285.6" r="5.21"/>
<circle cx="218.8" cy="284.8" r="5.21"/>
<circle cx="216.3" cy="284.9" r="5.21"/>
<circle cx="233.1" cy="283.1" r="5.21"/>
<circle cx="237.2" cy="284.2" r="5.21"/>
<circle cx="232.4" cy="283.6" r="5.21"/>
<circle cx="234.9" cy="283.4" r="5.21"/>
<circle cx="222.7" cy="283.8" r="5.21"/>
<circle cx="224.4" cy="285.2" r="5.21"/>
<circle cx="219.8" cy="285.7" r="5.21"/>
<circle cx="228.9" cy="282.9" r="5.21"/>
<circle cx="224.9" cy="284.0" r="5.21"/>
<circle cx="227.9" cy="284.6" r="5.21"/>
<circle cx="236.0" cy="282.5" r="5.21"/>
<circle cx="228.1" cy="283.2" r="5.21"/>
<circle cx="231.4" cy="284.1" r="5.21"/>
<circle cx="226.6" cy="283.3" r="5.21"/>
<circle cx="251.6" cy="281.7" r="5.21"/>
<circle cx="238.0" cy="284.5" r="5.21"/>
<circle cx="243.6" cy="283.2" r="5.21"/>
<circle cx="246.5" cy="284.1" r="5.21"/>
<circle cx="249.1" cy="282.0" r="5.21"/>
<circle cx="241.9" cy="284.2" r="5.21"/>
<circle cx="238.2" cy="282.4" r="5.21"/>
<circle cx="250.3" cy="283.3" r="5.21"/>
<circle cx="246.1" cy="284.1" r="5.21"/>
<circle cx="251.8" cy="283.6" r="5.21"/>
<circle cx="247.5" cy="283.7" r="5.21"/>
<circle cx="240.7" cy="282.0" r="5.21"/>
<circle cx="243.4" cy="282.5" r="5.21"/>
<circle cx="243.1" cy="283.6" r="5.21"/>
<circle cx="242.4" cy="282.2" r="5.21"/>
<circle cx="242.7" cy="283.0" r="5.21"/>
<circle cx="240.5" cy="282.0" r="5.21"/>
<circle cx="249.6" cy="282.1" r="5.21"/>
<circle cx="240.1" cy="283.6" r="5.21"/>
<circle cx="251.2" cy="284.0" r="5.21"/>
<circle cx="246.9" cy="284.0" r="5.21"/>
<circle cx="244.2" cy="284.5" r="5.21"/>
<circle cx="241.1" cy="284.7" r="5.21"/>
<circle cx="242.4" cy="284.5" r="5.21"/>
<circle cx="239.9" cy="283.0" r="5.21"/>
<circle cx="245.6" cy="284.2" r="5.21"/>
<circle cx="249.1" cy="282.1" r="5.21"/>
<circle cx="248.3" cy="283.5" r="5.21"/>
<circle cx="245.7" cy="284.3" r="5.21"/>
<circle cx="240.6" cy="283.3" r="5.21"/>
<circle cx="242.9" cy="283.4" r="5.21"/>
<circle cx="254.8" cy="282.9" r="5.21"/>
<circle cx="252.6" cy="282.5" r="5.21"/>
<circle cx="255.9" cy="282.1" r="5.21"/>
<circle cx="256.8" cy="282.4" r="5.21"/>
<circle cx="260.6" cy="280.8" r="5.21"/>
<circle cx="259.4" cy="279.6" r="5.21"/>
<circle cx="261.3" cy="277.8" r="5.21"/>
<circle cx="261.8" cy="279.5" r="5.21"/>
<circle cx="260.1" cy="281.2" r="5.21"/>
<circle cx="260.7" cy="279.2" r="5.21"/>
<circle cx="260.7" cy="278.0" r="5.21"/>
<circle cx="275.5" cy="277.7" r="5.21"/>
<circle cx="267.6" cy="277.4" r="5.21"/>
<circle cx="276.3" cy="279.5" r="5.21"/>
<circle cx="269.2" cy="279.9" r="5.21"/>
<circle cx="266.5" cy="278.5" r="5.21"/>
<circle cx="269.3" cy="280.3" r="5.21"/>
<circle cx="273.3" cy="279.4" r="5.21"/>
<circle cx="269.0" cy="277.7" r="5.21"/>
<circle cx="271.5" cy="280.4" r="5.21"/>
<circle cx="280.1" cy="277.9" r="5.21"/>
<circle cx="275.4" cy="278.5" r="5.21"/>
<circle cx="279.8" cy="280.3" r="5.21"/>
<circle cx="263.5" cy="280.4" r="5.21"/>
<circle cx="276.3" cy="280.0" r="5.21"/>
<circle cx="271.1" cy="277.2" r="5.21"/>
<circle cx="262.7" cy="279.0" r="5.21"/>
<circle cx="278.0" cy="278.6" r="5.21"/>
<circle cx="264.2" cy="281.0" r="5.21"/>
<circle cx="265.8" cy="279.1" r="5.21"/>
<circle cx="268.0" cy="280.6" r="5.21"/>
<circle cx="262.9" cy="281.0" r="5.21"/>
<circle cx="272.1" cy="280.2" r="5.21"/>
<circle cx="271.4" cy="277.9" r="5.21"/>
<circle cx="272.6" cy="278.6" r="5.21"/>
<circle cx="264.1" cy="277.8" r="5.21"/>
<circle cx="279.5" cy="277.6" r="5.21"/>
<circle cx="280.3" cy="277.8" r="5.21"/>
<circle cx="267.6" cy="280.4" r="5.21"/>
<circle cx="266.7" cy="279.3" r="5.21"/>
<circle cx="270.5" cy="280.6" r="5.21"/>
<circle cx="274.2" cy="278.6" r="5.21"/>
<circle cx="269.7" cy="279.2" r="5.21"/>
<circle cx="274.2" cy="279.6" r="5.21"/>
<circle cx="272.9" cy="277.6" r="5.21"/>
<circle cx="268.5" cy="280.7" r="5.21"/>
<circle cx="270.6" cy="279.5" r="5.21"/>
<circle cx="263.6" cy="280.7" r="5.21"/>
<circle cx="270.8" cy="277.2" r="5.21"/>
<circle cx="266.2" cy="278.6" r="5.21"/>
<circle cx="262.7" cy="280.7" r="5.21"/>
<circle cx="274.4" cy="280.5" r="5.21"/>
<circle cx="282.8" cy="277.5" r="5.21"/>
<circle cx="283.1" cy="279.2" r="5.21"/>
<circle cx="281.3" cy="279.7" r="5.21"/>
<circle cx="282.2" cy="279.5" r="5.21"/>
<circle cx="283.0" cy="280.1" r="5.21"/>
<circle cx="283.7" cy="277.5" r="5.21"/>
<circle cx="284.0" cy="278.5" r="5.21"/>
<circle cx="284.5" cy="278.3" r="5.21"/>
<circle cx="285.6" cy="280.2" r="5.21"/>
<circle cx="285.4" cy="279.6" r="5.21"/>
<circle cx="289.3" cy="279.6" r="5.21"/>
<circle cx="296.9" cy="278.6" r="5.21"/>
<circle cx="295.8" cy="275.9" r="5.21"/>
<circle cx="297.5" cy="274.1" r="5.21"/>
<circle cx="297.9" cy="277.0" r="5.21"/>
<circle cx="296.5" cy="279.1" r="5.21"/>
<circle cx="297.0" cy="276.0" r="5.21"/>
<circle cx="297.0" cy="274.1" r="5.21"/>
<circle cx="297.6" cy="274.5" r="5.21"/>
<circle cx="296.3" cy="274.1" r="5.21"/>
<circle cx="297.7" cy="278.0" r="5.21"/>
<circle cx="296.6" cy="278.4" r="5.21"/>
<circle cx="296.1" cy="275.9" r="5.21"/>
<circle cx="296.6" cy="279.1" r="5.21"/>
<circle cx="297.2" cy="277.7" r="5.21"/>
<circle cx="296.5" cy="274.6" r="5.21"/>
<circle cx="296.9" cy="279.4" r="5.21"/>
<circle cx="298.3" cy="274.6" r="5.21"/>
<circle cx="297.6" cy="276.0" r="5.21"/>
<circle cx="298.3" cy="279.9" r="5.21"/>
<circle cx="295.7" cy="278.9" r="5.21"/>
<circle cx="297.7" cy="279.1" r="5.21"/>
<circle cx="305.1" cy="278.5" r="5.21"/>
<circle cx="300.3" cy="276.6" r="5.21"/>
<circle cx="307.5" cy="273.6" r="5.21"/>
<circle cx="309.4" cy="276.4" r="5.21"/>
<circle cx="303.2" cy="279.1" r="5.21"/>
<circle cx="315.6" cy="275.9" r="5.21"/>
<circle cx="314.0" cy="272.2" r="5.21"/>
<circle cx="316.5" cy="269.7" r="5.21"/>
<circle cx="317.1" cy="273.7" r="5.21"/>
<circle cx="315.0" cy="276.7" r="5.21"/>
<circle cx="315.7" cy="272.4" r="5.21"/>
<circle cx="315.7" cy="269.6" r="5.21"/>
<circle cx="316.6" cy="270.2" r="5.21"/>
<circle cx="314.7" cy="269.7" r="5.21"/>
<circle cx="316.8" cy="275.0" r="5.21"/>
<circle cx="315.1" cy="275.7" r="5.21"/>
<circle cx="314.5" cy="272.3" r="5.21"/>
<circle cx="315.1" cy="276.7" r="5.21"/>
<circle cx="316.1" cy="274.6" r="5.21"/>
<circle cx="315.1" cy="270.4" r="5.21"/>
<circle cx="315.7" cy="277.1" r="5.21"/>
<circle cx="317.7" cy="270.4" r="5.21"/>
<circle cx="316.6" cy="272.3" r="5.21"/>
<circle cx="317.7" cy="277.5" r="5.21"/>
<circle cx="313.7" cy="276.5" r="5.21"/>
<circle cx="316.8" cy="276.5" r="5.21"/>
<circle cx="315.6" cy="269.0" r="5.21"/>
<circle cx="324.1" cy="274.4" r="5.21"/>
<circle cx="319.3" cy="271.9" r="5.21"/>
<circle cx="326.5" cy="268.8" r="5.21"/>
<circle cx="328.4" cy="271.8" r="5.21"/>
<circle cx="322.2" cy="275.4" r="5.21"/>
<circle cx="324.3" cy="271.3" r="5.21"/>
<circle cx="324.5" cy="268.9" r="5.21"/>
<circle cx="327.0" cy="269.2" r="5.21"/>
<circle cx="321.5" cy="269.3" r="5.21"/>
<circle cx="327.5" cy="272.9" r="5.21"/>
<circle cx="322.6" cy="274.5" r="5.21"/>
<circle cx="320.7" cy="271.7" r="5.21"/>
<circle cx="322.7" cy="275.3" r="5.21"/>
<circle cx="325.5" cy="273.0" r="5.21"/>
<circle cx="322.5" cy="269.8" r="5.21"/>
<circle cx="324.2" cy="275.4" r="5.21"/>
<circle cx="330.2" cy="268.9" r="5.21"/>
<circle cx="326.9" cy="270.9" r="5.21"/>
<circle cx="330.0" cy="274.5" r="5.21"/>
<circle cx="318.7" cy="276.0" r="5.21"/>
<circle cx="327.6" cy="274.2" r="5.21"/>
<circle cx="324.0" cy="268.5" r="5.21"/>
<circle cx="318.1" cy="273.2" r="5.21"/>
<circle cx="346.7" cy="268.9" r="5.21"/>
<circle cx="332.7" cy="274.1" r="5.21"/>
<circle cx="334.4" cy="270.8" r="5.21"/>
<circle cx="336.6" cy="273.4" r="5.21"/>
<circle cx="331.4" cy="274.1" r="5.21"/>
<circle cx="340.8" cy="272.7" r="5.21"/>
<circle cx="340.0" cy="268.0" r="5.21"/>
<circle cx="341.2" cy="269.4" r="5.21"/>
<circle cx="332.6" cy="268.9" r="5.21"/>
<circle cx="348.2" cy="266.0" r="5.21"/>
<circle cx="349.0" cy="266.5" r="5.21"/>
<circle cx="336.1" cy="273.0" r="5.21"/>
<circle cx="335.2" cy="271.2" r="5.21"/>
<circle cx="339.1" cy="273.5" r="5.21"/>
<circle cx="342.9" cy="269.2" r="5.21"/>
<circle cx="338.3" cy="270.7" r="5.21"/>
<circle cx="342.8" cy="271.4" r="5.21"/>
<circle cx="341.5" cy="267.1" r="5.21"/>
<circle cx="337.1" cy="273.6" r="5.21"/>
<circle cx="339.3" cy="271.4" r="5.21"/>
<circle cx="332.1" cy="273.6" r="5.21"/>
<circle cx="339.4" cy="266.7" r="5.21"/>
<circle cx="334.8" cy="269.8" r="5.21"/>
<circle cx="331.2" cy="273.6" r="5.21"/>
<circle cx="343.1" cy="273.4" r="5.21"/>
<circle cx="337.3" cy="267.1" r="5.21"/>
<circle cx="338.5" cy="271.1" r="5.21"/>
<circle cx="331.1" cy="273.0" r="5.21"/>
<circle cx="334.6" cy="272.3" r="5.21"/>
<circle cx="337.8" cy="273.5" r="5.21"/>
<circle cx="340.8" cy="266.5" r="5.21"/>
<circle cx="342.1" cy="269.0" r="5.21"/>
<circle cx="344.1" cy="268.0" r="5.21"/>
<circle cx="348.6" cy="273.1" r="5.21"/>
<circle cx="356.5" cy="268.6" r="5.21"/>
<circle cx="356.8" cy="267.8" r="5.21"/>
<circle cx="353.8" cy="267.8" r="5.21"/>
<circle cx="354.6" cy="269.5" r="5.21"/>
<circle cx="356.4" cy="269.1" r="5.21"/>
<circle cx="352.7" cy="264.6" r="5.21"/>
<circle cx="352.4" cy="270.6" r="5.21"/>
<circle cx="356.4" cy="263.2" r="5.21"/>
<circle cx="356.1" cy="263.2" r="5.21"/>
<circle cx="351.6" cy="271.7" r="5.21"/>
<circle cx="357.2" cy="269.5" r="5.21"/>
<circle cx="352.4" cy="269.4" r="5.21"/>
<circle cx="355.3" cy="268.2" r="5.21"/>
<circle cx="360.6" cy="272.2" r="5.21"/>
<circle cx="357.9" cy="269.6" r="5.21"/>
<circle cx="357.6" cy="269.3" r="5.21"/>
<circle cx="359.4" cy="270.1" r="5.21"/>
<circle cx="360.4" cy="272.6" r="5.21"/>
<circle cx="359.0" cy="267.8" r="5.21"/>
<circle cx="368.7" cy="269.9" r="5.21"/>
<circle cx="362.7" cy="268.0" r="5.21"/>
<circle cx="371.8" cy="265.7" r="5.21"/>
<circle cx="374.3" cy="268.3" r="5.21"/>
<circle cx="366.3" cy="270.4" r="5.21"/>
<circle cx="369.0" cy="267.7" r="5.21"/>
<circle cx="369.2" cy="265.9" r="5.21"/>
<circle cx="372.5" cy="266.0" r="5.21"/>
<circle cx="378.8" cy="274.1" r="5.21"/>
<circle cx="387.5" cy="262.9" r="5.21"/>
<circle cx="386.8" cy="263.5" r="5.21"/>
<circle cx="391.2" cy="259.1" r="5.21"/>
<circle cx="398.8" cy="261.6" r="5.21"/>
<circle cx="407.3" cy="264.2" r="5.21"/>
<circle cx="406.0" cy="255.3" r="5.21"/>
<circle cx="408.0" cy="249.4" r="5.21"/>
<circle cx="408.5" cy="259.1" r="5.21"/>
<circle cx="406.8" cy="265.9" r="5.21"/>
<circle cx="407.3" cy="255.8" r="5.21"/>
<circle cx="407.4" cy="249.3" r="5.21"/>
<circle cx="408.1" cy="250.7" r="5.21"/>
<circle cx="406.6" cy="249.4" r="5.21"/>
<circle cx="408.2" cy="262.2" r="5.21"/>
<circle cx="406.9" cy="263.7" r="5.21"/>
<circle cx="406.4" cy="255.4" r="5.21"/>
<circle cx="406.9" cy="265.9" r="5.21"/>
<circle cx="407.7" cy="261.2" r="5.21"/>
<circle cx="406.8" cy="251.1" r="5.21"/>
<circle cx="407.3" cy="267.0" r="5.21"/>
<circle cx="409.0" cy="251.2" r="5.21"/>
<circle cx="408.1" cy="255.8" r="5.21"/>
<circle cx="408.9" cy="268.5" r="5.21"/>
<circle cx="405.8" cy="265.2" r="5.21"/>
<circle cx="408.3" cy="265.8" r="5.21"/>
<circle cx="407.2" cy="247.9" r="5.21"/>
<circle cx="405.6" cy="258.0" r="5.21"/>
<circle cx="408.6" cy="256.6" r="5.21"/>
<circle cx="405.9" cy="268.5" r="5.21"/>
<circle cx="411.4" cy="261.4" r="5.21"/>
<circle cx="409.7" cy="256.1" r="5.21"/>
<circle cx="412.4" cy="252.6" r="5.21"/>
<circle cx="413.1" cy="258.1" r="5.21"/>
<circle cx="410.7" cy="262.6" r="5.21"/>
<circle cx="411.5" cy="256.3" r="5.21"/>
<circle cx="411.6" cy="252.4" r="5.21"/>
<circle cx="412.5" cy="253.4" r="5.21"/>
<circle cx="410.5" cy="252.3" r="5.21"/>
<circle cx="412.7" cy="259.9" r="5.21"/>
<circle cx="410.9" cy="261.3" r="5.21"/>
<circle cx="410.2" cy="256.1" r="5.21"/>
<circle cx="423.8" cy="247.9" r="5.21"/>
<circle cx="428.0" cy="247.2" r="5.21"/>
<circle cx="431.2" cy="249.1" r="5.21"/>
<circle cx="425.0" cy="252.2" r="5.21"/>
<circle cx="430.0" cy="256.0" r="5.21"/>
<circle cx="425.0" cy="263.5" r="5.21"/>
<circle cx="430.0" cy="261.0" r="5.21"/>
<circle cx="433.8" cy="264.1" r="5.21"/>
<circle cx="417.5" cy="264.1" r="5.21"/>
<circle cx="420.0" cy="251.0" r="5.21"/>
<circle cx="427.0" cy="249.5" r="5.21"/>
<circle cx="422.0" cy="255.0" r="5.21"/>
<circle cx="449.6" cy="238.5" r="5.21"/>
<circle cx="446.0" cy="248.5" r="5.21"/>
<circle cx="445.5" cy="248.0" r="5.21"/>
<circle cx="453.8" cy="250.4" r="5.21"/>
<circle cx="461.0" cy="256.6" r="5.21"/>
<circle cx="442.5" cy="257.2" r="5.21"/>
<circle cx="447.5" cy="261.0" r="5.21"/>
<circle cx="450.0" cy="260.4" r="5.21"/>
<circle cx="452.5" cy="261.6" r="5.21"/>
<circle cx="445.0" cy="259.0" r="5.21"/>
<circle cx="479.0" cy="258.5" r="5.21"/>
<circle cx="499.6" cy="235.9" r="5.21"/>
<circle cx="497.6" cy="230.5" r="5.21"/>
<circle cx="500.6" cy="227.0" r="5.21"/>
<circle cx="501.4" cy="232.8" r="5.21"/>
<circle cx="498.8" cy="236.9" r="5.21"/>
<circle cx="499.7" cy="230.8" r="5.21"/>
<circle cx="499.7" cy="226.9" r="5.21"/>
<circle cx="500.8" cy="227.8" r="5.21"/>
<circle cx="498.5" cy="227.0" r="5.21"/>
<circle cx="501.0" cy="234.6" r="5.21"/>
<circle cx="499.0" cy="235.6" r="5.21"/>
<circle cx="498.2" cy="230.6" r="5.21"/>
<circle cx="499.0" cy="236.9" r="5.21"/>
<circle cx="500.2" cy="234.1" r="5.21"/>
<circle cx="498.9" cy="228.0" r="5.21"/>
<circle cx="499.6" cy="237.5" r="5.21"/>
<circle cx="502.2" cy="228.1" r="5.21"/>
<circle cx="500.8" cy="230.8" r="5.21"/>
<circle cx="502.1" cy="238.5" r="5.21"/>
<circle cx="497.3" cy="236.5" r="5.21"/>
<circle cx="501.1" cy="236.8" r="5.21"/>
<circle cx="499.5" cy="226.1" r="5.21"/>
<circle cx="497.1" cy="232.2" r="5.21"/>
<circle cx="501.5" cy="231.3" r="5.21"/>
<circle cx="497.5" cy="238.4" r="5.21"/>
<circle cx="498.0" cy="232.5" r="5.21"/>
<circle cx="498.6" cy="237.7" r="5.21"/>
<circle cx="497.1" cy="238.3" r="5.21"/>
<circle cx="499.8" cy="236.9" r="5.21"/>
<circle cx="499.6" cy="228.5" r="5.21"/>
<circle cx="500.0" cy="231.2" r="5.21"/>
<circle cx="497.5" cy="228.5" r="5.21"/>
<circle cx="502.0" cy="226.8" r="5.21"/>
<circle cx="502.2" cy="227.8" r="5.21"/>
<circle cx="498.5" cy="236.9" r="5.21"/>
<circle cx="498.2" cy="233.3" r="5.21"/>
<circle cx="499.4" cy="238.1" r="5.21"/>
<circle cx="500.4" cy="231.2" r="5.21"/>
<circle cx="499.1" cy="232.9" r="5.21"/>
<circle cx="500.4" cy="235.0" r="5.21"/>
<circle cx="500.0" cy="227.3" r="5.21"/>
<circle cx="498.8" cy="238.0" r="5.21"/>
<circle cx="499.4" cy="234.4" r="5.21"/>
<circle cx="497.3" cy="237.4" r="5.21"/>
<circle cx="499.4" cy="226.1" r="5.21"/>
<circle cx="498.1" cy="230.8" r="5.21"/>
<circle cx="497.1" cy="237.3" r="5.21"/>
<circle cx="500.5" cy="238.3" r="5.21"/>
<circle cx="498.8" cy="226.4" r="5.21"/>
<circle cx="499.4" cy="241.0" r="5.21"/>
<circle cx="499.4" cy="244.0" r="5.21"/>
<circle cx="499.6" cy="249.0" r="5.21"/>
<circle cx="499.4" cy="256.0" r="5.21"/>
<circle cx="498.0" cy="240.0" r="5.21"/>
<circle cx="508.8" cy="232.2" r="5.21"/>
<circle cx="512.5" cy="233.5" r="5.21"/>
<circle cx="515.0" cy="240.4" r="5.21"/>
<circle cx="521.2" cy="231.6" r="5.21"/>
<circle cx="523.0" cy="239.8" r="5.21"/>
<circle cx="525.0" cy="246.0" r="5.21"/>
<circle cx="530.6" cy="240.0" r="5.21"/>
<circle cx="506.0" cy="231.0" r="5.21"/>
<circle cx="505.0" cy="235.0" r="5.21"/>
<circle cx="545.0" cy="236.0" r="5.21"/>
<circle cx="546.2" cy="231.6" r="5.21"/>
<circle cx="555.6" cy="232.2" r="5.21"/>
<circle cx="555.0" cy="231.8" r="5.21"/>
<circle cx="556.2" cy="232.6" r="5.21"/>
<circle cx="570.6" cy="237.0" r="5.21"/>
</g></g>
<rect x="706.1" y="228.06" width="45.60" height="61.37" fill="#D9D9D9"/>
<text transform="translate(719.90,258.85) rotate(90) scale(1,1.0)" text-anchor="middle" font-size="23.47" fill="#1A1A1A">SI1</text>
<line x1="134.67" x2="142.0" y1="287.56" y2="287.56" stroke="#333" stroke-width="2.85"/>
<text transform="translate(128.90,295.76) scale(1,0.95)" text-anchor="end" font-size="23.47" fill="#4D4D4D">0</text>
<line x1="134.67" x2="142.0" y1="272.36" y2="272.36" stroke="#333" stroke-width="2.85"/>
<text transform="translate(128.90,280.56) scale(1,0.95)" text-anchor="end" font-size="23.47" fill="#4D4D4D">5000</text>
<line x1="134.67" x2="142.0" y1="257.16" y2="257.16" stroke="#333" stroke-width="2.85"/>
<text transform="translate(128.90,265.36) scale(1,0.95)" text-anchor="end" font-size="23.47" fill="#4D4D4D">10000</text>
<line x1="134.67" x2="142.0" y1="241.96" y2="241.96" stroke="#333" stroke-width="2.85"/>
<text transform="translate(128.90,250.16) scale(1,0.95)" text-anchor="end" font-size="23.47" fill="#4D4D4D">15000</text>
<rect x="142.0" y="304.09" width="564.10" height="61.37" fill="#EBEBEB"/>
<g clip-path="url(#cp3)">
<line x1="142.0" x2="706.1" y1="355.99" y2="355.99" stroke="#fff" stroke-width="1.43"/>
<line x1="142.0" x2="706.1" y1="340.79" y2="340.79" stroke="#fff" stroke-width="1.43"/>
<line x1="142.0" x2="706.1" y1="325.59" y2="325.59" stroke="#fff" stroke-width="1.43"/>
<line x1="142.0" x2="706.1" y1="310.39" y2="310.39" stroke="#fff" stroke-width="1.43"/>
<line x1="222.59" x2="222.59" y1="304.09" y2="365.46" stroke="#fff" stroke-width="1.43"/>
<line x1="405.74" x2="405.74" y1="304.09" y2="365.46" stroke="#fff" stroke-width="1.43"/>
<line x1="588.89" x2="588.89" y1="304.09" y2="365.46" stroke="#fff" stroke-width="1.43"/>
<line x1="142.0" x2="706.1" y1="363.59" y2="363.59" stroke="#fff" stroke-width="2.85"/>
<line x1="142.0" x2="706.1" y1="348.39" y2="348.39" stroke="#fff" stroke-width="2.85"/>
<line x1="142.0" x2="706.1" y1="333.19" y2="333.19" stroke="#fff" stroke-width="2.85"/>
<line x1="142.0" x2="706.1" y1="317.99" y2="317.99" stroke="#fff" stroke-width="2.85"/>
<line x1="314.16" x2="314.16" y1="304.09" y2="365.46" stroke="#fff" stroke-width="2.85"/>
<line x1="497.31" x2="497.31" y1="304.09" y2="365.46" stroke="#fff" stroke-width="2.85"/>
<line x1="680.46" x2="680.46" y1="304.09" y2="365.46" stroke="#fff" stroke-width="2.85"/>
<g fill="#00BE67" stroke="#00BE67" fill-opacity="0.5" stroke-opacity="0.5" stroke-width="1.89">
<circle cx="168.0" cy="362.5" r="5.21"/>
<circle cx="180.6" cy="363.0" r="5.21"/>
<circle cx="177.6" cy="361.9" r="5.21"/>
<circle cx="178.9" cy="362.1" r="5.21"/>
<circle cx="184.5" cy="361.3" r="5.21"/>
<circle cx="175.9" cy="362.1" r="5.21"/>
<circle cx="184.0" cy="362.5" r="5.21"/>
<circle cx="177.3" cy="361.8" r="5.21"/>
<circle cx="182.0" cy="361.2" r="5.21"/>
<circle cx="176.6" cy="363.0" r="5.21"/>
<circle cx="187.3" cy="360.6" r="5.21"/>
<circle cx="181.9" cy="362.5" r="5.21"/>
<circle cx="179.6" cy="362.2" r="5.21"/>
<circle cx="176.9" cy="362.4" r="5.21"/>
<circle cx="179.5" cy="361.3" r="5.21"/>
<circle cx="179.6" cy="361.7" r="5.21"/>
<circle cx="183.9" cy="361.1" r="5.21"/>
<circle cx="175.8" cy="362.8" r="5.21"/>
<circle cx="185.2" cy="361.5" r="5.21"/>
<circle cx="181.0" cy="361.1" r="5.21"/>
<circle cx="180.0" cy="362.2" r="5.21"/>
<circle cx="175.9" cy="362.6" r="5.21"/>
<circle cx="181.8" cy="362.8" r="5.21"/>
<circle cx="183.2" cy="361.5" r="5.21"/>
<circle cx="184.2" cy="361.1" r="5.21"/>
<circle cx="180.3" cy="361.8" r="5.21"/>
<circle cx="183.4" cy="360.8" r="5.21"/>
<circle cx="208.7" cy="360.8" r="5.21"/>
<circle cx="196.3" cy="361.0" r="5.21"/>
<circle cx="203.6" cy="362.0" r="5.21"/>
<circle cx="211.5" cy="361.2" r="5.21"/>
<circle cx="191.0" cy="361.0" r="5.21"/>
<circle cx="190.4" cy="361.2" r="5.21"/>
<circle cx="197.5" cy="361.8" r="5.21"/>
<circle cx="196.2" cy="361.4" r="5.21"/>
<circle cx="197.3" cy="360.9" r="5.21"/>
<circle cx="206.7" cy="360.9" r="5.21"/>
<circle cx="205.7" cy="361.3" r="5.21"/>
<circle cx="197.9" cy="362.3" r="5.21"/>
<circle cx="212.0" cy="360.8" r="5.21"/>
<circle cx="191.9" cy="360.1" r="5.21"/>
<circle cx="211.0" cy="361.8" r="5.21"/>
<circle cx="203.9" cy="360.6" r="5.21"/>
<circle cx="210.6" cy="361.2" r="5.21"/>
<circle cx="210.5" cy="361.4" r="5.21"/>
<circle cx="208.9" cy="361.8" r="5.21"/>
<circle cx="194.7" cy="362.2" r="5.21"/>
<circle cx="197.6" cy="360.5" r="5.21"/>
<circle cx="187.5" cy="360.8" r="5.21"/>
<circle cx="196.3" cy="360.6" r="5.21"/>
<circle cx="196.5" cy="362.3" r="5.21"/>
<circle cx="207.1" cy="361.0" r="5.21"/>
<circle cx="194.8" cy="361.0" r="5.21"/>
<circle cx="206.3" cy="360.6" r="5.21"/>
<circle cx="212.3" cy="361.5" r="5.21"/>
<circle cx="191.2" cy="360.7" r="5.21"/>
<circle cx="208.5" cy="361.8" r="5.21"/>
<circle cx="195.2" cy="361.2" r="5.21"/>
<circle cx="190.5" cy="360.8" r="5.21"/>
<circle cx="205.3" cy="360.5" r="5.21"/>
<circle cx="211.3" cy="361.8" r="5.21"/>
<circle cx="203.8" cy="362.3" r="5.21"/>
<circle cx="203.1" cy="361.1" r="5.21"/>
<circle cx="208.0" cy="361.1" r="5.21"/>
<circle cx="205.6" cy="361.3" r="5.21"/>
<circle cx="206.2" cy="361.7" r="5.21"/>
<circle cx="193.2" cy="361.0" r="5.21"/>
<circle cx="207.8" cy="361.4" r="5.21"/>
<circle cx="191.7" cy="361.3" r="5.21"/>
<circle cx="202.6" cy="361.3" r="5.21"/>
<circle cx="207.8" cy="362.2" r="5.21"/>
<circle cx="201.9" cy="362.4" r="5.21"/>
<circle cx="207.0" cy="361.5" r="5.21"/>
<circle cx="192.4" cy="361.6" r="5.21"/>
<circle cx="210.4" cy="360.8" r="5.21"/>
<circle cx="189.2" cy="361.0" r="5.21"/>
<circle cx="199.5" cy="361.0" r="5.21"/>
<circle cx="187.7" cy="360.3" r="5.21"/>
<circle cx="204.0" cy="361.1" r="5.21"/>
<circle cx="194.2" cy="362.2" r="5.21"/>
<circle cx="199.3" cy="360.6" r="5.21"/>
<circle cx="201.4" cy="360.4" r="5.21"/>
<circle cx="219.9" cy="360.9" r="5.21"/>
<circle cx="219.2" cy="361.4" r="5.21"/>
<circle cx="219.1" cy="359.8" r="5.21"/>
<circle cx="214.2" cy="360.0" r="5.21"/>
<circle cx="214.5" cy="360.8" r="5.21"/>
<circle cx="217.3" cy="361.6" r="5.21"/>
<circle cx="216.8" cy="360.0" r="5.21"/>
<circle cx="216.1" cy="359.4" r="5.21"/>
<circle cx="218.1" cy="358.5" r="5.21"/>
<circle cx="216.5" cy="360.8" r="5.21"/>
<circle cx="218.3" cy="358.7" r="5.21"/>
<circle cx="214.5" cy="360.0" r="5.21"/>
<circle cx="217.9" cy="359.9" r="5.21"/>
<circle cx="220.0" cy="359.9" r="5.21"/>
<circle cx="216.6" cy="360.7" r="5.21"/>
<circle cx="219.0" cy="359.9" r="5.21"/>
<circle cx="232.4" cy="357.3" r="5.21"/>
<circle cx="232.9" cy="356.9" r="5.21"/>
<circle cx="227.2" cy="360.6" r="5.21"/>
<circle cx="229.8" cy="360.0" r="5.21"/>
<circle cx="234.7" cy="359.8" r="5.21"/>
<circle cx="234.6" cy="359.8" r="5.21"/>
<circle cx="230.4" cy="358.9" r="5.21"/>
<circle cx="226.3" cy="361.1" r="5.21"/>
<circle cx="224.6" cy="358.4" r="5.21"/>
<circle cx="224.0" cy="360.2" r="5.21"/>
<circle cx="236.9" cy="356.5" r="5.21"/>
<circle cx="237.0" cy="356.2" r="5.21"/>
<circle cx="234.2" cy="358.9" r="5.21"/>
<circle cx="229.3" cy="360.5" r="5.21"/>
<circle cx="234.0" cy="356.3" r="5.21"/>
<circle cx="229.9" cy="360.3" r="5.21"/>
<circle cx="228.8" cy="356.8" r="5.21"/>
<circle cx="234.2" cy="360.5" r="5.21"/>
<circle cx="224.8" cy="359.3" r="5.21"/>
<circle cx="224.5" cy="357.4" r="5.21"/>
<circle cx="231.0" cy="357.6" r="5.21"/>
<circle cx="230.2" cy="360.6" r="5.21"/>
<circle cx="227.5" cy="361.0" r="5.21"/>
<circle cx="225.7" cy="360.3" r="5.21"/>
<circle cx="226.1" cy="357.4" r="5.21"/>
<circle cx="235.0" cy="360.6" r="5.21"/>
<circle cx="228.3" cy="358.3" r="5.21"/>
<circle cx="222.7" cy="358.0" r="5.21"/>
<circle cx="226.2" cy="359.3" r="5.21"/>
<circle cx="234.8" cy="360.5" r="5.21"/>
<circle cx="227.9" cy="357.4" r="5.21"/>
<circle cx="220.2" cy="357.5" r="5.21"/>
<circle cx="235.8" cy="358.7" r="5.21"/>
<circle cx="237.0" cy="357.5" r="5.21"/>
<circle cx="226.8" cy="358.0" r="5.21"/>
<circle cx="228.5" cy="357.9" r="5.21"/>
<circle cx="225.8" cy="357.0" r="5.21"/>
<circle cx="234.3" cy="359.2" r="5.21"/>
<circle cx="249.7" cy="359.3" r="5.21"/>
<circle cx="238.9" cy="356.0" r="5.21"/>
<circle cx="239.8" cy="358.6" r="5.21"/>
<circle cx="241.8" cy="357.5" r="5.21"/>
<circle cx="238.5" cy="356.8" r="5.21"/>
<circle cx="247.4" cy="358.1" r="5.21"/>
<circle cx="239.2" cy="356.6" r="5.21"/>
<circle cx="238.2" cy="357.8" r="5.21"/>
<circle cx="238.4" cy="358.1" r="5.21"/>
<circle cx="241.5" cy="358.7" r="5.21"/>
<circle cx="247.4" cy="358.7" r="5.21"/>
<circle cx="243.8" cy="359.3" r="5.21"/>
<circle cx="244.5" cy="356.9" r="5.21"/>
<circle cx="237.6" cy="357.0" r="5.21"/>
<circle cx="237.5" cy="355.8" r="5.21"/>
<circle cx="242.4" cy="358.8" r="5.21"/>
<circle cx="247.9" cy="358.9" r="5.21"/>
<circle cx="245.8" cy="359.1" r="5.21"/>
<circle cx="242.6" cy="357.1" r="5.21"/>
<circle cx="238.9" cy="357.2" r="5.21"/>
<circle cx="246.9" cy="358.8" r="5.21"/>
<circle cx="245.8" cy="358.5" r="5.21"/>
<circle cx="247.5" cy="358.8" r="5.21"/>
<circle cx="249.5" cy="359.2" r="5.21"/>
<circle cx="239.9" cy="357.9" r="5.21"/>
<circle cx="238.4" cy="356.5" r="5.21"/>
<circle cx="249.0" cy="358.9" r="5.21"/>
<circle cx="250.4" cy="358.8" r="5.21"/>
<circle cx="251.5" cy="357.5" r="5.21"/>
<circle cx="250.7" cy="358.2" r="5.21"/>
<circle cx="251.6" cy="358.5" r="5.21"/>
<circle cx="251.5" cy="357.7" r="5.21"/>
<circle cx="250.9" cy="358.0" r="5.21"/>
<circle cx="250.2" cy="358.6" r="5.21"/>
<circle cx="251.3" cy="358.1" r="5.21"/>
<circle cx="257.6" cy="357.2" r="5.21"/>
<circle cx="255.5" cy="354.2" r="5.21"/>
<circle cx="256.4" cy="354.9" r="5.21"/>
<circle cx="260.3" cy="354.3" r="5.21"/>
<circle cx="254.3" cy="354.1" r="5.21"/>
<circle cx="260.1" cy="356.4" r="5.21"/>
<circle cx="255.2" cy="353.9" r="5.21"/>
<circle cx="258.6" cy="353.6" r="5.21"/>
<circle cx="254.8" cy="356.9" r="5.21"/>
<circle cx="262.3" cy="353.4" r="5.21"/>
<circle cx="258.5" cy="356.3" r="5.21"/>
<circle cx="256.9" cy="355.4" r="5.21"/>
<circle cx="255.0" cy="355.3" r="5.21"/>
<circle cx="256.8" cy="353.2" r="5.21"/>
<circle cx="256.9" cy="354.2" r="5.21"/>
<circle cx="259.9" cy="353.8" r="5.21"/>
<circle cx="254.2" cy="356.4" r="5.21"/>
<circle cx="260.8" cy="354.7" r="5.21"/>
<circle cx="270.5" cy="352.9" r="5.21"/>
<circle cx="269.1" cy="355.1" r="5.21"/>
<circle cx="263.0" cy="355.2" r="5.21"/>
<circle cx="271.7" cy="356.8" r="5.21"/>
<circle cx="273.7" cy="354.6" r="5.21"/>
<circle cx="275.2" cy="354.1" r="5.21"/>
<circle cx="269.5" cy="354.3" r="5.21"/>
<circle cx="274.0" cy="353.4" r="5.21"/>
<circle cx="277.3" cy="353.7" r="5.21"/>
<circle cx="268.6" cy="354.1" r="5.21"/>
<circle cx="273.8" cy="356.0" r="5.21"/>
<circle cx="279.3" cy="354.5" r="5.21"/>
<circle cx="264.9" cy="354.1" r="5.21"/>
<circle cx="264.5" cy="354.5" r="5.21"/>
<circle cx="269.5" cy="355.6" r="5.21"/>
<circle cx="268.6" cy="354.9" r="5.21"/>
<circle cx="269.3" cy="353.9" r="5.21"/>
<circle cx="275.9" cy="353.9" r="5.21"/>
<circle cx="275.3" cy="354.7" r="5.21"/>
<circle cx="269.8" cy="356.6" r="5.21"/>
<circle cx="279.7" cy="353.7" r="5.21"/>
<circle cx="265.6" cy="352.7" r="5.21"/>
<circle cx="279.0" cy="355.8" r="5.21"/>
<circle cx="274.0" cy="353.5" r="5.21"/>
<circle cx="278.7" cy="354.6" r="5.21"/>
<circle cx="278.6" cy="354.9" r="5.21"/>
<circle cx="277.5" cy="355.7" r="5.21"/>
<circle cx="267.5" cy="356.2" r="5.21"/>
<circle cx="269.6" cy="353.3" r="5.21"/>
<circle cx="262.5" cy="353.8" r="5.21"/>
<circle cx="268.6" cy="353.4" r="5.21"/>
<circle cx="268.8" cy="356.4" r="5.21"/>
<circle cx="276.2" cy="354.0" r="5.21"/>
<circle cx="267.6" cy="354.2" r="5.21"/>
<circle cx="275.7" cy="353.4" r="5.21"/>
<circle cx="279.9" cy="355.1" r="5.21"/>
<circle cx="265.1" cy="353.7" r="5.21"/>
<circle cx="277.2" cy="355.7" r="5.21"/>
<circle cx="282.3" cy="354.6" r="5.21"/>
<circle cx="280.9" cy="354.2" r="5.21"/>
<circle cx="285.3" cy="352.4" r="5.21"/>
<circle cx="287.1" cy="354.6" r="5.21"/>
<circle cx="284.9" cy="355.8" r="5.21"/>
<circle cx="284.7" cy="353.8" r="5.21"/>
<circle cx="286.1" cy="353.3" r="5.21"/>
<circle cx="285.4" cy="353.9" r="5.21"/>
<circle cx="285.6" cy="354.7" r="5.21"/>
<circle cx="281.7" cy="354.3" r="5.21"/>
<circle cx="286.1" cy="354.1" r="5.21"/>
<circle cx="281.3" cy="354.9" r="5.21"/>
<circle cx="284.5" cy="354.1" r="5.21"/>
<circle cx="286.1" cy="355.6" r="5.21"/>
<circle cx="284.3" cy="356.2" r="5.21"/>
<circle cx="285.9" cy="354.3" r="5.21"/>
<circle cx="290.3" cy="354.5" r="5.21"/>
<circle cx="288.6" cy="352.3" r="5.21"/>
<circle cx="289.4" cy="352.8" r="5.21"/>
<circle cx="297.7" cy="352.8" r="5.21"/>
<circle cx="296.7" cy="347.8" r="5.21"/>
<circle cx="297.1" cy="349.1" r="5.21"/>
<circle cx="299.0" cy="348.6" r="5.21"/>
<circle cx="296.1" cy="347.5" r="5.21"/>
<circle cx="298.8" cy="351.7" r="5.21"/>
<circle cx="296.6" cy="347.3" r="5.21"/>
<circle cx="298.2" cy="347.4" r="5.21"/>
<circle cx="296.4" cy="352.0" r="5.21"/>
<circle cx="299.9" cy="347.7" r="5.21"/>
<circle cx="298.1" cy="351.4" r="5.21"/>
<circle cx="297.4" cy="349.9" r="5.21"/>
<circle cx="296.5" cy="349.5" r="5.21"/>
<circle cx="297.3" cy="346.5" r="5.21"/>
<circle cx="297.4" cy="348.0" r="5.21"/>
<circle cx="298.8" cy="347.8" r="5.21"/>
<circle cx="296.1" cy="351.1" r="5.21"/>
<circle cx="299.2" cy="349.3" r="5.21"/>
<circle cx="297.8" cy="346.5" r="5.21"/>
<circle cx="297.5" cy="349.8" r="5.21"/>
<circle cx="296.1" cy="350.1" r="5.21"/>
<circle cx="298.1" cy="352.3" r="5.21"/>
<circle cx="298.6" cy="348.9" r="5.21"/>
<circle cx="298.9" cy="348.1" r="5.21"/>
<circle cx="297.6" cy="348.6" r="5.21"/>
<circle cx="298.6" cy="347.0" r="5.21"/>
<circle cx="299.4" cy="347.2" r="5.21"/>
<circle cx="297.4" cy="348.4" r="5.21"/>
<circle cx="305.1" cy="352.1" r="5.21"/>
<circle cx="302.1" cy="347.6" r="5.21"/>
<circle cx="303.4" cy="348.5" r="5.21"/>
<circle cx="309.0" cy="346.8" r="5.21"/>
<circle cx="315.0" cy="351.1" r="5.21"/>
<circle cx="314.1" cy="343.0" r="5.21"/>
<circle cx="314.5" cy="345.1" r="5.21"/>
<circle cx="316.1" cy="344.3" r="5.21"/>
<circle cx="313.6" cy="342.6" r="5.21"/>
<circle cx="316.0" cy="349.2" r="5.21"/>
<circle cx="314.0" cy="342.2" r="5.21"/>
<circle cx="315.4" cy="342.3" r="5.21"/>
<circle cx="313.8" cy="350.0" r="5.21"/>
<circle cx="316.9" cy="342.8" r="5.21"/>
<circle cx="315.4" cy="348.9" r="5.21"/>
<circle cx="314.7" cy="346.5" r="5.21"/>
<circle cx="313.9" cy="345.8" r="5.21"/>
<circle cx="314.7" cy="340.9" r="5.21"/>
<circle cx="314.7" cy="343.4" r="5.21"/>
<circle cx="315.9" cy="343.1" r="5.21"/>
<circle cx="313.6" cy="348.5" r="5.21"/>
<circle cx="316.3" cy="345.4" r="5.21"/>
<circle cx="315.1" cy="340.9" r="5.21"/>
<circle cx="314.8" cy="346.3" r="5.21"/>
<circle cx="313.6" cy="347.0" r="5.21"/>
<circle cx="315.3" cy="350.3" r="5.21"/>
<circle cx="315.7" cy="344.7" r="5.21"/>
<circle cx="316.0" cy="343.5" r="5.21"/>
<circle cx="321.5" cy="348.9" r="5.21"/>
<circle cx="318.8" cy="342.6" r="5.21"/>
<circle cx="320.0" cy="344.2" r="5.21"/>
<circle cx="324.8" cy="342.8" r="5.21"/>
<circle cx="317.4" cy="342.5" r="5.21"/>
<circle cx="324.5" cy="346.9" r="5.21"/>
<circle cx="318.5" cy="342.0" r="5.21"/>
<circle cx="322.7" cy="341.5" r="5.21"/>
<circle cx="317.9" cy="348.5" r="5.21"/>
<circle cx="327.3" cy="341.2" r="5.21"/>
<circle cx="322.6" cy="346.9" r="5.21"/>
<circle cx="320.6" cy="345.3" r="5.21"/>
<circle cx="318.2" cy="345.0" r="5.21"/>
<circle cx="320.5" cy="340.6" r="5.21"/>
<circle cx="320.6" cy="342.7" r="5.21"/>
<circle cx="324.3" cy="341.8" r="5.21"/>
<circle cx="317.3" cy="347.4" r="5.21"/>
<circle cx="325.5" cy="343.6" r="5.21"/>
<circle cx="321.8" cy="340.4" r="5.21"/>
<circle cx="321.0" cy="345.0" r="5.21"/>
<circle cx="317.3" cy="346.1" r="5.21"/>
<circle cx="332.7" cy="346.2" r="5.21"/>
<circle cx="333.9" cy="343.3" r="5.21"/>
<circle cx="334.8" cy="342.9" r="5.21"/>
<circle cx="331.5" cy="342.9" r="5.21"/>
<circle cx="334.1" cy="342.0" r="5.21"/>
<circle cx="336.0" cy="342.6" r="5.21"/>
<circle cx="331.0" cy="342.5" r="5.21"/>
<circle cx="333.9" cy="345.1" r="5.21"/>
<circle cx="337.1" cy="343.5" r="5.21"/>
<circle cx="328.9" cy="342.5" r="5.21"/>
<circle cx="328.7" cy="343.2" r="5.21"/>
<circle cx="331.5" cy="344.8" r="5.21"/>
<circle cx="331.0" cy="343.7" r="5.21"/>
<circle cx="331.4" cy="342.3" r="5.21"/>
<circle cx="335.2" cy="342.7" r="5.21"/>
<circle cx="334.8" cy="343.5" r="5.21"/>
<circle cx="331.7" cy="346.1" r="5.21"/>
<circle cx="337.3" cy="342.9" r="5.21"/>
<circle cx="329.3" cy="340.1" r="5.21"/>
<circle cx="336.9" cy="344.6" r="5.21"/>
<circle cx="339.8" cy="342.9" r="5.21"/>
<circle cx="340.7" cy="343.6" r="5.21"/>
<circle cx="340.7" cy="343.9" r="5.21"/>
<circle cx="340.5" cy="344.5" r="5.21"/>
<circle cx="338.5" cy="345.0" r="5.21"/>
<circle cx="338.9" cy="343.0" r="5.21"/>
<circle cx="337.5" cy="343.5" r="5.21"/>
<circle cx="343.0" cy="327.0" r="5.21"/>
<circle cx="342.5" cy="332.0" r="5.21"/>
<circle cx="362.5" cy="332.8" r="5.21"/>
<circle cx="363.8" cy="353.4" r="5.21"/>
<circle cx="347.1" cy="349.1" r="5.21"/>
<circle cx="345.9" cy="341.4" r="5.21"/>
<circle cx="346.4" cy="343.1" r="5.21"/>
<circle cx="348.7" cy="341.3" r="5.21"/>
<circle cx="353.0" cy="349.2" r="5.21"/>
<circle cx="352.1" cy="337.6" r="5.21"/>
<circle cx="352.5" cy="340.6" r="5.21"/>
<circle cx="354.1" cy="339.4" r="5.21"/>
<circle cx="351.6" cy="337.0" r="5.21"/>
<circle cx="354.0" cy="346.6" r="5.21"/>
<circle cx="352.0" cy="336.5" r="5.21"/>
<circle cx="353.4" cy="336.5" r="5.21"/>
<circle cx="351.8" cy="347.4" r="5.21"/>
<circle cx="354.9" cy="337.1" r="5.21"/>
<circle cx="353.4" cy="346.1" r="5.21"/>
<circle cx="352.7" cy="342.6" r="5.21"/>
<circle cx="351.9" cy="341.5" r="5.21"/>
<circle cx="352.7" cy="334.5" r="5.21"/>
<circle cx="352.7" cy="338.1" r="5.21"/>
<circle cx="353.9" cy="337.6" r="5.21"/>
<circle cx="351.6" cy="345.3" r="5.21"/>
<circle cx="357.1" cy="349.2" r="5.21"/>
<circle cx="355.9" cy="336.4" r="5.21"/>
<circle cx="356.4" cy="339.8" r="5.21"/>
<circle cx="358.7" cy="338.5" r="5.21"/>
<circle cx="355.2" cy="335.8" r="5.21"/>
<circle cx="358.6" cy="346.4" r="5.21"/>
<circle cx="355.7" cy="335.2" r="5.21"/>
<circle cx="357.7" cy="335.3" r="5.21"/>
<circle cx="362.5" cy="331.4" r="5.21"/>
<circle cx="369.4" cy="332.6" r="5.21"/>
<circle cx="363.8" cy="353.2" r="5.21"/>
<circle cx="371.2" cy="343.2" r="5.21"/>
<circle cx="366.2" cy="339.5" r="5.21"/>
<circle cx="372.5" cy="337.0" r="5.21"/>
<circle cx="368.8" cy="348.2" r="5.21"/>
<circle cx="357.5" cy="352.0" r="5.21"/>
<circle cx="364.0" cy="336.0" r="5.21"/>
<circle cx="367.0" cy="344.0" r="5.21"/>
<circle cx="370.0" cy="340.0" r="5.21"/>
<circle cx="365.0" cy="347.0" r="5.21"/>
<circle cx="361.0" cy="341.0" r="5.21"/>
<circle cx="382.5" cy="339.5" r="5.21"/>
<circle cx="382.0" cy="340.0" r="5.21"/>
<circle cx="386.2" cy="344.5" r="5.21"/>
<circle cx="385.4" cy="328.9" r="5.21"/>
<circle cx="398.0" cy="327.6" r="5.21"/>
<circle cx="406.9" cy="339.8" r="5.21"/>
<circle cx="406.1" cy="323.3" r="5.21"/>
<circle cx="406.5" cy="327.6" r="5.21"/>
<circle cx="407.8" cy="326.1" r="5.21"/>
<circle cx="405.7" cy="322.4" r="5.21"/>
<circle cx="407.7" cy="336.2" r="5.21"/>
<circle cx="406.0" cy="321.7" r="5.21"/>
<circle cx="407.2" cy="322.0" r="5.21"/>
<circle cx="405.9" cy="337.2" r="5.21"/>
<circle cx="408.5" cy="323.0" r="5.21"/>
<circle cx="407.2" cy="335.4" r="5.21"/>
<circle cx="406.6" cy="330.4" r="5.21"/>
<circle cx="405.9" cy="328.9" r="5.21"/>
<circle cx="406.6" cy="319.0" r="5.21"/>
<circle cx="406.6" cy="324.1" r="5.21"/>
<circle cx="407.7" cy="323.5" r="5.21"/>
<circle cx="405.7" cy="334.2" r="5.21"/>
<circle cx="408.0" cy="328.5" r="5.21"/>
<circle cx="407.0" cy="319.0" r="5.21"/>
<circle cx="406.7" cy="330.0" r="5.21"/>
<circle cx="405.7" cy="331.1" r="5.21"/>
<circle cx="407.2" cy="338.3" r="5.21"/>
<circle cx="407.5" cy="326.9" r="5.21"/>
<circle cx="407.8" cy="324.3" r="5.21"/>
<circle cx="410.9" cy="331.9" r="5.21"/>
<circle cx="409.5" cy="323.6" r="5.21"/>
<circle cx="410.1" cy="325.9" r="5.21"/>
<circle cx="412.6" cy="325.1" r="5.21"/>
<circle cx="408.8" cy="323.0" r="5.21"/>
<circle cx="412.4" cy="329.7" r="5.21"/>
<circle cx="409.4" cy="322.8" r="5.21"/>
<circle cx="411.5" cy="323.1" r="5.21"/>
<circle cx="409.1" cy="331.1" r="5.21"/>
<circle cx="413.9" cy="323.8" r="5.21"/>
<circle cx="411.5" cy="329.6" r="5.21"/>
<circle cx="410.4" cy="327.3" r="5.21"/>
<circle cx="409.2" cy="326.6" r="5.21"/>
<circle cx="413.8" cy="315.8" r="5.21"/>
<circle cx="411.0" cy="317.0" r="5.21"/>
<circle cx="416.2" cy="339.5" r="5.21"/>
<circle cx="412.0" cy="338.0" r="5.21"/>
<circle cx="423.8" cy="336.4" r="5.21"/>
<circle cx="426.2" cy="335.1" r="5.21"/>
<circle cx="420.0" cy="334.0" r="5.21"/>
<circle cx="423.8" cy="321.4" r="5.21"/>
<circle cx="427.0" cy="321.0" r="5.21"/>
<circle cx="430.0" cy="320.5" r="5.21"/>
<circle cx="433.0" cy="319.0" r="5.21"/>
<circle cx="436.0" cy="317.0" r="5.21"/>
<circle cx="418.0" cy="323.0" r="5.21"/>
<circle cx="420.5" cy="322.0" r="5.21"/>
<circle cx="425.0" cy="324.0" r="5.21"/>
<circle cx="431.0" cy="323.0" r="5.21"/>
<circle cx="443.8" cy="310.8" r="5.21"/>
<circle cx="451.2" cy="312.6" r="5.21"/>
<circle cx="450.0" cy="313.9" r="5.21"/>
<circle cx="440.0" cy="322.0" r="5.21"/>
<circle cx="443.0" cy="325.8" r="5.21"/>
<circle cx="443.8" cy="330.1" r="5.21"/>
<circle cx="444.4" cy="337.0" r="5.21"/>
<circle cx="437.5" cy="315.8" r="5.21"/>
<circle cx="441.0" cy="318.5" r="5.21"/>
<circle cx="445.0" cy="320.0" r="5.21"/>
<circle cx="461.9" cy="324.5" r="5.21"/>
<circle cx="466.2" cy="328.9" r="5.21"/>
<circle cx="462.5" cy="323.7" r="5.21"/>
<circle cx="485.8" cy="319.2" r="5.21"/>
<circle cx="492.5" cy="317.8" r="5.21"/>
<circle cx="498.7" cy="312.8" r="5.21"/>
<circle cx="502.8" cy="313.7" r="5.21"/>
<circle cx="499.2" cy="323.7" r="5.21"/>
<circle cx="498.8" cy="323.2" r="5.21"/>
<circle cx="499.8" cy="324.2" r="5.21"/>
<circle cx="505.8" cy="322.0" r="5.21"/>
<circle cx="504.2" cy="330.0" r="5.21"/>
<circle cx="510.0" cy="328.7" r="5.21"/>
<circle cx="517.5" cy="318.7" r="5.21"/>
<circle cx="522.5" cy="312.3" r="5.21"/>
<circle cx="522.0" cy="312.8" r="5.21"/>
<circle cx="533.8" cy="310.3" r="5.21"/>
<circle cx="548.7" cy="313.3" r="5.21"/>
<circle cx="565.0" cy="312.5" r="5.21"/>
<circle cx="589.2" cy="312.0" r="5.21"/>
</g></g>
<rect x="706.1" y="304.09" width="45.60" height="61.37" fill="#D9D9D9"/>
<text transform="translate(719.90,334.88) rotate(90) scale(1,1.0)" text-anchor="middle" font-size="23.47" fill="#1A1A1A">VS2</text>
<line x1="134.67" x2="142.0" y1="363.59" y2="363.59" stroke="#333" stroke-width="2.85"/>
<text transform="translate(128.90,371.79) scale(1,0.95)" text-anchor="end" font-size="23.47" fill="#4D4D4D">0</text>
<line x1="134.67" x2="142.0" y1="348.39" y2="348.39" stroke="#333" stroke-width="2.85"/>
<text transform="translate(128.90,356.59) scale(1,0.95)" text-anchor="end" font-size="23.47" fill="#4D4D4D">5000</text>
<line x1="134.67" x2="142.0" y1="333.19" y2="333.19" stroke="#333" stroke-width="2.85"/>
<text transform="translate(128.90,341.39) scale(1,0.95)" text-anchor="end" font-size="23.47" fill="#4D4D4D">10000</text>
<line x1="134.67" x2="142.0" y1="317.99" y2="317.99" stroke="#333" stroke-width="2.85"/>
<text transform="translate(128.90,326.19) scale(1,0.95)" text-anchor="end" font-size="23.47" fill="#4D4D4D">15000</text>
<rect x="142.0" y="380.12" width="564.10" height="61.37" fill="#EBEBEB"/>
<g clip-path="url(#cp4)">
<line x1="142.0" x2="706.1" y1="432.02" y2="432.02" stroke="#fff" stroke-width="1.43"/>
<line x1="142.0" x2="706.1" y1="416.82" y2="416.82" stroke="#fff" stroke-width="1.43"/>
<line x1="142.0" x2="706.1" y1="401.62" y2="401.62" stroke="#fff" stroke-width="1.43"/>
<line x1="142.0" x2="706.1" y1="386.42" y2="386.42" stroke="#fff" stroke-width="1.43"/>
<line x1="222.59" x2="222.59" y1="380.12" y2="441.49" stroke="#fff" stroke-width="1.43"/>
<line x1="405.74" x2="405.74" y1="380.12" y2="441.49" stroke="#fff" stroke-width="1.43"/>
<line x1="588.89" x2="588.89" y1="380.12" y2="441.49" stroke="#fff" stroke-width="1.43"/>
<line x1="142.0" x2="706.1" y1="439.62" y2="439.62" stroke="#fff" stroke-width="2.85"/>
<line x1="142.0" x2="706.1" y1="424.42" y2="424.42" stroke="#fff" stroke-width="2.85"/>
<line x1="142.0" x2="706.1" y1="409.22" y2="409.22" stroke="#fff" stroke-width="2.85"/>
<line x1="142.0" x2="706.1" y1="394.02" y2="394.02" stroke="#fff" stroke-width="2.85"/>
<line x1="314.16" x2="314.16" y1="380.12" y2="441.49" stroke="#fff" stroke-width="2.85"/>
<line x1="497.31" x2="497.31" y1="380.12" y2="441.49" stroke="#fff" stroke-width="2.85"/>
<line x1="680.46" x2="680.46" y1="380.12" y2="441.49" stroke="#fff" stroke-width="2.85"/>
<g fill="#00BFC4" stroke="#00BFC4" fill-opacity="0.5" stroke-opacity="0.5" stroke-width="1.89">
<circle cx="207.0" cy="436.2" r="5.21"/>
<circle cx="186.0" cy="438.9" r="5.21"/>
<circle cx="199.3" cy="436.7" r="5.21"/>
<circle cx="186.4" cy="438.0" r="5.21"/>
<circle cx="209.0" cy="436.4" r="5.21"/>
<circle cx="178.9" cy="438.0" r="5.21"/>
<circle cx="190.8" cy="438.5" r="5.21"/>
<circle cx="199.9" cy="437.3" r="5.21"/>
<circle cx="195.2" cy="437.4" r="5.21"/>
<circle cx="197.3" cy="436.6" r="5.21"/>
<circle cx="173.6" cy="439.0" r="5.21"/>
<circle cx="194.3" cy="438.2" r="5.21"/>
<circle cx="201.9" cy="437.2" r="5.21"/>
<circle cx="194.9" cy="437.1" r="5.21"/>
<circle cx="178.7" cy="437.8" r="5.21"/>
<circle cx="179.5" cy="438.8" r="5.21"/>
<circle cx="208.8" cy="436.2" r="5.21"/>
<circle cx="209.3" cy="437.5" r="5.21"/>
<circle cx="196.9" cy="437.9" r="5.21"/>
<circle cx="195.4" cy="438.2" r="5.21"/>
<circle cx="197.4" cy="438.5" r="5.21"/>
<circle cx="187.1" cy="438.8" r="5.21"/>
<circle cx="176.1" cy="438.5" r="5.21"/>
<circle cx="190.3" cy="437.1" r="5.21"/>
<circle cx="182.6" cy="439.0" r="5.21"/>
<circle cx="208.8" cy="436.6" r="5.21"/>
<circle cx="199.6" cy="437.6" r="5.21"/>
<circle cx="191.7" cy="437.3" r="5.21"/>
<circle cx="191.5" cy="438.6" r="5.21"/>
<circle cx="199.1" cy="438.2" r="5.21"/>
<circle cx="188.2" cy="437.8" r="5.21"/>
<circle cx="185.4" cy="437.5" r="5.21"/>
<circle cx="189.8" cy="438.2" r="5.21"/>
<circle cx="185.7" cy="437.1" r="5.21"/>
<circle cx="197.8" cy="436.9" r="5.21"/>
<circle cx="200.4" cy="436.8" r="5.21"/>
<circle cx="174.6" cy="438.6" r="5.21"/>
<circle cx="200.0" cy="438.0" r="5.21"/>
<circle cx="183.4" cy="438.7" r="5.21"/>
<circle cx="186.7" cy="437.6" r="5.21"/>
<circle cx="196.7" cy="438.1" r="5.21"/>
<circle cx="180.1" cy="438.3" r="5.21"/>
<circle cx="182.9" cy="438.3" r="5.21"/>
<circle cx="174.4" cy="438.6" r="5.21"/>
<circle cx="184.2" cy="437.9" r="5.21"/>
<circle cx="182.4" cy="437.5" r="5.21"/>
<circle cx="202.4" cy="437.7" r="5.21"/>
<circle cx="196.8" cy="437.2" r="5.21"/>
<circle cx="203.9" cy="437.9" r="5.21"/>
<circle cx="207.7" cy="436.2" r="5.21"/>
<circle cx="176.6" cy="438.2" r="5.21"/>
<circle cx="195.1" cy="438.7" r="5.21"/>
<circle cx="205.8" cy="437.9" r="5.21"/>
<circle cx="198.7" cy="437.0" r="5.21"/>
<circle cx="175.4" cy="438.0" r="5.21"/>
<circle cx="201.8" cy="437.2" r="5.21"/>
<circle cx="177.3" cy="439.1" r="5.21"/>
<circle cx="174.0" cy="438.5" r="5.21"/>
<circle cx="186.8" cy="438.8" r="5.21"/>
<circle cx="181.5" cy="437.4" r="5.21"/>
<circle cx="200.3" cy="438.7" r="5.21"/>
<circle cx="189.3" cy="438.8" r="5.21"/>
<circle cx="176.8" cy="438.1" r="5.21"/>
<circle cx="188.1" cy="437.9" r="5.21"/>
<circle cx="191.2" cy="437.3" r="5.21"/>
<circle cx="174.9" cy="437.9" r="5.21"/>
<circle cx="183.7" cy="438.6" r="5.21"/>
<circle cx="188.7" cy="438.3" r="5.21"/>
<circle cx="200.4" cy="436.6" r="5.21"/>
<circle cx="197.6" cy="437.1" r="5.21"/>
<circle cx="198.6" cy="437.4" r="5.21"/>
<circle cx="181.8" cy="438.4" r="5.21"/>
<circle cx="176.1" cy="437.8" r="5.21"/>
<circle cx="208.4" cy="438.4" r="5.21"/>
<circle cx="196.1" cy="437.2" r="5.21"/>
<circle cx="191.0" cy="438.6" r="5.21"/>
<circle cx="194.7" cy="436.7" r="5.21"/>
<circle cx="205.2" cy="438.6" r="5.21"/>
<circle cx="195.6" cy="437.0" r="5.21"/>
<circle cx="199.1" cy="437.0" r="5.21"/>
<circle cx="200.2" cy="437.1" r="5.21"/>
<circle cx="215.8" cy="437.0" r="5.21"/>
<circle cx="216.9" cy="436.1" r="5.21"/>
<circle cx="220.3" cy="435.9" r="5.21"/>
<circle cx="212.5" cy="437.3" r="5.21"/>
<circle cx="216.3" cy="435.9" r="5.21"/>
<circle cx="215.2" cy="435.8" r="5.21"/>
<circle cx="217.4" cy="436.9" r="5.21"/>
<circle cx="217.2" cy="434.9" r="5.21"/>
<circle cx="217.3" cy="435.9" r="5.21"/>
<circle cx="214.1" cy="438.2" r="5.21"/>
<circle cx="218.7" cy="436.0" r="5.21"/>
<circle cx="219.6" cy="437.7" r="5.21"/>
<circle cx="210.2" cy="438.0" r="5.21"/>
<circle cx="221.4" cy="435.0" r="5.21"/>
<circle cx="212.4" cy="437.1" r="5.21"/>
<circle cx="219.5" cy="437.7" r="5.21"/>
<circle cx="212.0" cy="436.1" r="5.21"/>
<circle cx="211.4" cy="436.0" r="5.21"/>
<circle cx="210.8" cy="436.3" r="5.21"/>
<circle cx="215.4" cy="437.7" r="5.21"/>
<circle cx="210.0" cy="437.7" r="5.21"/>
<circle cx="221.8" cy="435.4" r="5.21"/>
<circle cx="212.4" cy="435.6" r="5.21"/>
<circle cx="213.0" cy="435.3" r="5.21"/>
<circle cx="221.9" cy="435.2" r="5.21"/>
<circle cx="211.8" cy="437.6" r="5.21"/>
<circle cx="212.2" cy="437.3" r="5.21"/>
<circle cx="222.7" cy="435.0" r="5.21"/>
<circle cx="224.8" cy="433.1" r="5.21"/>
<circle cx="224.6" cy="433.9" r="5.21"/>
<circle cx="225.2" cy="436.0" r="5.21"/>
<circle cx="237.0" cy="432.6" r="5.21"/>
<circle cx="223.8" cy="434.6" r="5.21"/>
<circle cx="229.8" cy="436.6" r="5.21"/>
<circle cx="226.9" cy="432.8" r="5.21"/>
<circle cx="236.1" cy="435.7" r="5.21"/>
<circle cx="241.8" cy="434.2" r="5.21"/>
<circle cx="223.5" cy="435.8" r="5.21"/>
<circle cx="242.9" cy="433.3" r="5.21"/>
<circle cx="226.0" cy="435.0" r="5.21"/>
<circle cx="244.7" cy="435.6" r="5.21"/>
<circle cx="233.5" cy="435.7" r="5.21"/>
<circle cx="233.3" cy="433.1" r="5.21"/>
<circle cx="223.4" cy="433.5" r="5.21"/>
<circle cx="229.4" cy="433.6" r="5.21"/>
<circle cx="234.1" cy="436.5" r="5.21"/>
<circle cx="234.1" cy="433.4" r="5.21"/>
<circle cx="246.0" cy="433.3" r="5.21"/>
<circle cx="229.4" cy="434.1" r="5.21"/>
<circle cx="227.1" cy="434.7" r="5.21"/>
<circle cx="222.9" cy="434.0" r="5.21"/>
<circle cx="235.0" cy="432.9" r="5.21"/>
<circle cx="246.7" cy="432.6" r="5.21"/>
<circle cx="239.2" cy="434.7" r="5.21"/>
<circle cx="243.3" cy="433.3" r="5.21"/>
<circle cx="234.2" cy="434.7" r="5.21"/>
<circle cx="232.0" cy="434.7" r="5.21"/>
<circle cx="225.5" cy="437.2" r="5.21"/>
<circle cx="223.7" cy="436.8" r="5.21"/>
<circle cx="241.3" cy="434.9" r="5.21"/>
<circle cx="241.5" cy="433.3" r="5.21"/>
<circle cx="229.2" cy="434.8" r="5.21"/>
<circle cx="228.8" cy="433.3" r="5.21"/>
<circle cx="245.5" cy="433.7" r="5.21"/>
<circle cx="224.3" cy="436.8" r="5.21"/>
<circle cx="229.5" cy="433.8" r="5.21"/>
<circle cx="243.2" cy="433.9" r="5.21"/>
<circle cx="223.4" cy="434.2" r="5.21"/>
<circle cx="237.0" cy="436.2" r="5.21"/>
<circle cx="228.2" cy="435.7" r="5.21"/>
<circle cx="229.7" cy="433.3" r="5.21"/>
<circle cx="231.1" cy="436.7" r="5.21"/>
<circle cx="225.6" cy="433.4" r="5.21"/>
<circle cx="241.6" cy="434.6" r="5.21"/>
<circle cx="245.8" cy="432.9" r="5.21"/>
<circle cx="233.1" cy="433.8" r="5.21"/>
<circle cx="244.8" cy="432.4" r="5.21"/>
<circle cx="225.7" cy="434.5" r="5.21"/>
<circle cx="246.9" cy="434.4" r="5.21"/>
<circle cx="229.8" cy="432.9" r="5.21"/>
<circle cx="224.3" cy="435.7" r="5.21"/>
<circle cx="245.5" cy="435.0" r="5.21"/>
<circle cx="247.9" cy="434.1" r="5.21"/>
<circle cx="257.4" cy="432.0" r="5.21"/>
<circle cx="250.4" cy="433.5" r="5.21"/>
<circle cx="250.1" cy="432.5" r="5.21"/>
<circle cx="249.0" cy="433.3" r="5.21"/>
<circle cx="248.5" cy="433.8" r="5.21"/>
<circle cx="248.5" cy="433.0" r="5.21"/>
<circle cx="258.8" cy="428.7" r="5.21"/>
<circle cx="255.2" cy="433.1" r="5.21"/>
<circle cx="254.6" cy="432.9" r="5.21"/>
<circle cx="258.9" cy="429.6" r="5.21"/>
<circle cx="247.6" cy="435.4" r="5.21"/>
<circle cx="250.6" cy="432.1" r="5.21"/>
<circle cx="248.8" cy="432.9" r="5.21"/>
<circle cx="248.0" cy="433.0" r="5.21"/>
<circle cx="249.7" cy="433.5" r="5.21"/>
<circle cx="258.3" cy="430.5" r="5.21"/>
<circle cx="253.9" cy="432.6" r="5.21"/>
<circle cx="259.4" cy="432.3" r="5.21"/>
<circle cx="259.3" cy="431.5" r="5.21"/>
<circle cx="257.9" cy="432.0" r="5.21"/>
<circle cx="251.7" cy="432.5" r="5.21"/>
<circle cx="250.1" cy="434.3" r="5.21"/>
<circle cx="254.2" cy="430.5" r="5.21"/>
<circle cx="255.5" cy="432.9" r="5.21"/>
<circle cx="257.6" cy="431.6" r="5.21"/>
<circle cx="252.3" cy="431.2" r="5.21"/>
<circle cx="261.4" cy="430.5" r="5.21"/>
<circle cx="268.4" cy="426.7" r="5.21"/>
<circle cx="270.6" cy="427.6" r="5.21"/>
<circle cx="269.8" cy="429.4" r="5.21"/>
<circle cx="267.7" cy="428.4" r="5.21"/>
<circle cx="260.7" cy="429.6" r="5.21"/>
<circle cx="270.7" cy="428.1" r="5.21"/>
<circle cx="262.8" cy="431.1" r="5.21"/>
<circle cx="263.4" cy="428.5" r="5.21"/>
<circle cx="263.5" cy="429.8" r="5.21"/>
<circle cx="268.8" cy="428.1" r="5.21"/>
<circle cx="265.9" cy="426.7" r="5.21"/>
<circle cx="260.2" cy="428.9" r="5.21"/>
<circle cx="262.4" cy="431.0" r="5.21"/>
<circle cx="273.3" cy="428.8" r="5.21"/>
<circle cx="260.3" cy="430.1" r="5.21"/>
<circle cx="265.2" cy="429.2" r="5.21"/>
<circle cx="271.4" cy="427.4" r="5.21"/>
<circle cx="262.6" cy="430.5" r="5.21"/>
<circle cx="265.1" cy="430.5" r="5.21"/>
<circle cx="264.6" cy="427.6" r="5.21"/>
<circle cx="272.5" cy="425.4" r="5.21"/>
<circle cx="265.1" cy="426.8" r="5.21"/>
<circle cx="268.6" cy="430.9" r="5.21"/>
<circle cx="270.1" cy="427.2" r="5.21"/>
<circle cx="270.5" cy="427.1" r="5.21"/>
<circle cx="266.6" cy="426.6" r="5.21"/>
<circle cx="269.6" cy="427.1" r="5.21"/>
<circle cx="269.0" cy="427.5" r="5.21"/>
<circle cx="271.3" cy="425.4" r="5.21"/>
<circle cx="278.9" cy="430.8" r="5.21"/>
<circle cx="275.4" cy="427.4" r="5.21"/>
<circle cx="280.3" cy="426.5" r="5.21"/>
<circle cx="279.4" cy="425.0" r="5.21"/>
<circle cx="276.1" cy="426.0" r="5.21"/>
<circle cx="280.1" cy="425.7" r="5.21"/>
<circle cx="275.2" cy="424.8" r="5.21"/>
<circle cx="275.6" cy="429.6" r="5.21"/>
<circle cx="274.4" cy="426.7" r="5.21"/>
<circle cx="280.2" cy="431.3" r="5.21"/>
<circle cx="276.2" cy="427.8" r="5.21"/>
<circle cx="279.3" cy="429.2" r="5.21"/>
<circle cx="275.2" cy="429.3" r="5.21"/>
<circle cx="277.5" cy="428.5" r="5.21"/>
<circle cx="297.4" cy="421.9" r="5.21"/>
<circle cx="295.8" cy="428.5" r="5.21"/>
<circle cx="296.8" cy="422.3" r="5.21"/>
<circle cx="295.9" cy="424.9" r="5.21"/>
<circle cx="297.5" cy="422.8" r="5.21"/>
<circle cx="295.3" cy="423.8" r="5.21"/>
<circle cx="296.2" cy="427.4" r="5.21"/>
<circle cx="296.9" cy="424.2" r="5.21"/>
<circle cx="296.5" cy="424.0" r="5.21"/>
<circle cx="296.7" cy="421.9" r="5.21"/>
<circle cx="294.9" cy="427.9" r="5.21"/>
<circle cx="296.5" cy="426.5" r="5.21"/>
<circle cx="297.0" cy="424.4" r="5.21"/>
<circle cx="296.5" cy="423.1" r="5.21"/>
<circle cx="295.3" cy="422.8" r="5.21"/>
<circle cx="295.4" cy="427.5" r="5.21"/>
<circle cx="297.5" cy="422.3" r="5.21"/>
<circle cx="297.6" cy="425.7" r="5.21"/>
<circle cx="295.5" cy="417.4" r="5.21"/>
<circle cx="296.5" cy="419.0" r="5.21"/>
<circle cx="295.0" cy="420.2" r="5.21"/>
<circle cx="319.5" cy="414.8" r="5.21"/>
<circle cx="316.2" cy="427.1" r="5.21"/>
<circle cx="318.3" cy="415.6" r="5.21"/>
<circle cx="316.3" cy="420.7" r="5.21"/>
<circle cx="319.8" cy="416.3" r="5.21"/>
<circle cx="315.1" cy="418.9" r="5.21"/>
<circle cx="317.0" cy="425.0" r="5.21"/>
<circle cx="318.4" cy="418.9" r="5.21"/>
<circle cx="317.7" cy="418.9" r="5.21"/>
<circle cx="318.0" cy="414.9" r="5.21"/>
<circle cx="314.3" cy="426.5" r="5.21"/>
<circle cx="317.5" cy="423.3" r="5.21"/>
<circle cx="318.7" cy="419.3" r="5.21"/>
<circle cx="317.6" cy="417.2" r="5.21"/>
<circle cx="315.1" cy="417.1" r="5.21"/>
<circle cx="315.2" cy="425.5" r="5.21"/>
<circle cx="319.8" cy="415.3" r="5.21"/>
<circle cx="319.9" cy="421.4" r="5.21"/>
<circle cx="317.9" cy="422.3" r="5.21"/>
<circle cx="317.7" cy="424.0" r="5.21"/>
<circle cx="318.0" cy="425.8" r="5.21"/>
<circle cx="316.4" cy="426.4" r="5.21"/>
<circle cx="314.7" cy="422.6" r="5.21"/>
<circle cx="316.9" cy="416.1" r="5.21"/>
<circle cx="315.7" cy="427.8" r="5.21"/>
<circle cx="319.8" cy="417.0" r="5.21"/>
<circle cx="318.4" cy="420.9" r="5.21"/>
<circle cx="317.1" cy="417.6" r="5.21"/>
<circle cx="317.1" cy="425.9" r="5.21"/>
<circle cx="318.3" cy="424.2" r="5.21"/>
<circle cx="316.6" cy="419.7" r="5.21"/>
<circle cx="316.2" cy="417.1" r="5.21"/>
<circle cx="316.8" cy="422.8" r="5.21"/>
<circle cx="316.2" cy="414.7" r="5.21"/>
<circle cx="342.9" cy="411.9" r="5.21"/>
<circle cx="328.8" cy="423.9" r="5.21"/>
<circle cx="337.8" cy="412.9" r="5.21"/>
<circle cx="329.1" cy="418.0" r="5.21"/>
<circle cx="344.3" cy="413.3" r="5.21"/>
<circle cx="324.0" cy="416.4" r="5.21"/>
<circle cx="332.0" cy="421.9" r="5.21"/>
<circle cx="338.2" cy="416.1" r="5.21"/>
<circle cx="335.0" cy="416.1" r="5.21"/>
<circle cx="336.4" cy="412.3" r="5.21"/>
<circle cx="320.4" cy="423.4" r="5.21"/>
<circle cx="334.4" cy="420.3" r="5.21"/>
<circle cx="339.5" cy="416.4" r="5.21"/>
<circle cx="334.8" cy="414.5" r="5.21"/>
<circle cx="323.8" cy="414.8" r="5.21"/>
<circle cx="324.4" cy="422.5" r="5.21"/>
<circle cx="344.2" cy="412.4" r="5.21"/>
<circle cx="344.5" cy="418.3" r="5.21"/>
<circle cx="336.1" cy="419.3" r="5.21"/>
<circle cx="335.1" cy="421.0" r="5.21"/>
<circle cx="336.5" cy="422.7" r="5.21"/>
<circle cx="329.5" cy="423.3" r="5.21"/>
<circle cx="322.1" cy="419.9" r="5.21"/>
<circle cx="331.7" cy="413.6" r="5.21"/>
<circle cx="326.5" cy="424.6" r="5.21"/>
<circle cx="344.2" cy="414.0" r="5.21"/>
<circle cx="338.0" cy="417.9" r="5.21"/>
<circle cx="332.6" cy="415.0" r="5.21"/>
<circle cx="332.5" cy="422.8" r="5.21"/>
<circle cx="337.6" cy="421.2" r="5.21"/>
<circle cx="330.3" cy="417.0" r="5.21"/>
<circle cx="328.4" cy="414.7" r="5.21"/>
<circle cx="331.3" cy="419.9" r="5.21"/>
<circle cx="328.6" cy="412.4" r="5.21"/>
<circle cx="336.8" cy="413.6" r="5.21"/>
<circle cx="338.5" cy="413.7" r="5.21"/>
<circle cx="321.1" cy="420.7" r="5.21"/>
<circle cx="338.2" cy="420.1" r="5.21"/>
<circle cx="327.0" cy="422.1" r="5.21"/>
<circle cx="329.3" cy="415.8" r="5.21"/>
<circle cx="322.5" cy="411.2" r="5.21"/>
<circle cx="330.0" cy="410.0" r="5.21"/>
<circle cx="338.0" cy="409.4" r="5.21"/>
<circle cx="348.8" cy="409.4" r="5.21"/>
<circle cx="356.0" cy="411.6" r="5.21"/>
<circle cx="352.9" cy="422.0" r="5.21"/>
<circle cx="354.8" cy="412.2" r="5.21"/>
<circle cx="353.0" cy="416.4" r="5.21"/>
<circle cx="356.3" cy="413.0" r="5.21"/>
<circle cx="351.9" cy="414.6" r="5.21"/>
<circle cx="353.6" cy="420.2" r="5.21"/>
<circle cx="354.9" cy="415.2" r="5.21"/>
<circle cx="354.2" cy="415.0" r="5.21"/>
<circle cx="354.6" cy="411.6" r="5.21"/>
<circle cx="351.1" cy="421.1" r="5.21"/>
<circle cx="354.1" cy="418.8" r="5.21"/>
<circle cx="355.2" cy="415.5" r="5.21"/>
<circle cx="354.2" cy="413.5" r="5.21"/>
<circle cx="351.8" cy="413.0" r="5.21"/>
<circle cx="351.9" cy="420.4" r="5.21"/>
<circle cx="356.2" cy="412.2" r="5.21"/>
<circle cx="356.3" cy="417.6" r="5.21"/>
<circle cx="354.5" cy="418.0" r="5.21"/>
<circle cx="354.3" cy="419.5" r="5.21"/>
<circle cx="354.6" cy="421.2" r="5.21"/>
<circle cx="353.1" cy="421.3" r="5.21"/>
<circle cx="351.5" cy="417.8" r="5.21"/>
<circle cx="353.5" cy="412.4" r="5.21"/>
<circle cx="352.4" cy="422.5" r="5.21"/>
<circle cx="356.2" cy="413.7" r="5.21"/>
<circle cx="354.9" cy="416.9" r="5.21"/>
<circle cx="353.7" cy="413.8" r="5.21"/>
<circle cx="353.7" cy="421.1" r="5.21"/>
<circle cx="354.8" cy="419.8" r="5.21"/>
<circle cx="353.2" cy="415.6" r="5.21"/>
<circle cx="352.8" cy="413.2" r="5.21"/>
<circle cx="361.5" cy="413.4" r="5.21"/>
<circle cx="358.4" cy="421.1" r="5.21"/>
<circle cx="360.4" cy="413.6" r="5.21"/>
<circle cx="358.4" cy="416.7" r="5.21"/>
<circle cx="361.9" cy="414.4" r="5.21"/>
<circle cx="357.3" cy="415.1" r="5.21"/>
<circle cx="359.1" cy="419.7" r="5.21"/>
<circle cx="360.5" cy="415.8" r="5.21"/>
<circle cx="368.8" cy="417.5" r="5.21"/>
<circle cx="366.2" cy="422.5" r="5.21"/>
<circle cx="372.5" cy="425.0" r="5.21"/>
<circle cx="365.0" cy="412.5" r="5.21"/>
<circle cx="365.0" cy="401.9" r="5.21"/>
<circle cx="371.2" cy="400.6" r="5.21"/>
<circle cx="374.4" cy="401.9" r="5.21"/>
<circle cx="368.8" cy="401.2" r="5.21"/>
<circle cx="387.5" cy="397.5" r="5.21"/>
<circle cx="388.8" cy="406.2" r="5.21"/>
<circle cx="385.6" cy="417.2" r="5.21"/>
<circle cx="371.2" cy="418.0" r="5.21"/>
<circle cx="373.0" cy="424.9" r="5.21"/>
<circle cx="398.0" cy="402.4" r="5.21"/>
<circle cx="410.0" cy="392.3" r="5.21"/>
<circle cx="407.5" cy="413.7" r="5.21"/>
<circle cx="409.1" cy="393.5" r="5.21"/>
<circle cx="407.6" cy="402.1" r="5.21"/>
<circle cx="410.3" cy="395.1" r="5.21"/>
<circle cx="406.7" cy="398.4" r="5.21"/>
<circle cx="408.1" cy="410.1" r="5.21"/>
<circle cx="409.2" cy="399.6" r="5.21"/>
<circle cx="408.6" cy="399.2" r="5.21"/>
<circle cx="408.9" cy="392.1" r="5.21"/>
<circle cx="406.1" cy="411.8" r="5.21"/>
<circle cx="408.5" cy="407.2" r="5.21"/>
<circle cx="409.4" cy="400.3" r="5.21"/>
<circle cx="408.6" cy="396.2" r="5.21"/>
<circle cx="406.7" cy="395.2" r="5.21"/>
<circle cx="406.8" cy="410.4" r="5.21"/>
<circle cx="410.3" cy="393.4" r="5.21"/>
<circle cx="410.3" cy="404.6" r="5.21"/>
<circle cx="408.8" cy="405.5" r="5.21"/>
<circle cx="408.7" cy="408.5" r="5.21"/>
<circle cx="408.9" cy="412.1" r="5.21"/>
<circle cx="407.7" cy="412.4" r="5.21"/>
<circle cx="406.4" cy="405.1" r="5.21"/>
<circle cx="408.1" cy="394.0" r="5.21"/>
<circle cx="406.9" cy="390.5" r="5.21"/>
<circle cx="414.4" cy="401.8" r="5.21"/>
<circle cx="422.2" cy="386.4" r="5.21"/>
<circle cx="424.0" cy="402.4" r="5.21"/>
<circle cx="442.1" cy="404.5" r="5.21"/>
<circle cx="449.8" cy="405.9" r="5.21"/>
<circle cx="449.8" cy="385.2" r="5.21"/>
<circle cx="493.7" cy="400.2" r="5.21"/>
<circle cx="499.2" cy="391.3" r="5.21"/>
<circle cx="498.8" cy="391.8" r="5.21"/>
<circle cx="508.0" cy="394.3" r="5.21"/>
<circle cx="507.5" cy="393.8" r="5.21"/>
<circle cx="524.7" cy="392.2" r="5.21"/>
<circle cx="554.2" cy="386.7" r="5.21"/>
<circle cx="567.0" cy="383.0" r="5.21"/>
</g></g>
<rect x="706.1" y="380.12" width="45.60" height="61.37" fill="#D9D9D9"/>
<text transform="translate(719.90,410.91) rotate(90) scale(1,1.0)" text-anchor="middle" font-size="23.47" fill="#1A1A1A">VS1</text>
<line x1="134.67" x2="142.0" y1="439.62" y2="439.62" stroke="#333" stroke-width="2.85"/>
<text transform="translate(128.90,447.82) scale(1,0.95)" text-anchor="end" font-size="23.47" fill="#4D4D4D">0</text>
<line x1="134.67" x2="142.0" y1="424.42" y2="424.42" stroke="#333" stroke-width="2.85"/>
<text transform="translate(128.90,432.62) scale(1,0.95)" text-anchor="end" font-size="23.47" fill="#4D4D4D">5000</text>
<line x1="134.67" x2="142.0" y1="409.22" y2="409.22" stroke="#333" stroke-width="2.85"/>
<text transform="translate(128.90,417.42) scale(1,0.95)" text-anchor="end" font-size="23.47" fill="#4D4D4D">10000</text>
<line x1="134.67" x2="142.0" y1="394.02" y2="394.02" stroke="#333" stroke-width="2.85"/>
<text transform="translate(128.90,402.22) scale(1,0.95)" text-anchor="end" font-size="23.47" fill="#4D4D4D">15000</text>
<rect x="142.0" y="456.15" width="564.10" height="61.37" fill="#EBEBEB"/>
<g clip-path="url(#cp5)">
<line x1="142.0" x2="706.1" y1="508.05" y2="508.05" stroke="#fff" stroke-width="1.43"/>
<line x1="142.0" x2="706.1" y1="492.85" y2="492.85" stroke="#fff" stroke-width="1.43"/>
<line x1="142.0" x2="706.1" y1="477.65" y2="477.65" stroke="#fff" stroke-width="1.43"/>
<line x1="142.0" x2="706.1" y1="462.45" y2="462.45" stroke="#fff" stroke-width="1.43"/>
<line x1="222.59" x2="222.59" y1="456.15" y2="517.52" stroke="#fff" stroke-width="1.43"/>
<line x1="405.74" x2="405.74" y1="456.15" y2="517.52" stroke="#fff" stroke-width="1.43"/>
<line x1="588.89" x2="588.89" y1="456.15" y2="517.52" stroke="#fff" stroke-width="1.43"/>
<line x1="142.0" x2="706.1" y1="515.65" y2="515.65" stroke="#fff" stroke-width="2.85"/>
<line x1="142.0" x2="706.1" y1="500.45" y2="500.45" stroke="#fff" stroke-width="2.85"/>
<line x1="142.0" x2="706.1" y1="485.25" y2="485.25" stroke="#fff" stroke-width="2.85"/>
<line x1="142.0" x2="706.1" y1="470.05" y2="470.05" stroke="#fff" stroke-width="2.85"/>
<line x1="314.16" x2="314.16" y1="456.15" y2="517.52" stroke="#fff" stroke-width="2.85"/>
<line x1="497.31" x2="497.31" y1="456.15" y2="517.52" stroke="#fff" stroke-width="2.85"/>
<line x1="680.46" x2="680.46" y1="456.15" y2="517.52" stroke="#fff" stroke-width="2.85"/>
<g fill="#00A9FF" stroke="#00A9FF" fill-opacity="0.5" stroke-opacity="0.5" stroke-width="1.89">
<circle cx="188.5" cy="514.6" r="5.21"/>
<circle cx="175.6" cy="515.0" r="5.21"/>
<circle cx="197.8" cy="514.4" r="5.21"/>
<circle cx="191.9" cy="514.3" r="5.21"/>
<circle cx="202.5" cy="512.2" r="5.21"/>
<circle cx="174.5" cy="513.9" r="5.21"/>
<circle cx="173.3" cy="513.7" r="5.21"/>
<circle cx="193.2" cy="513.2" r="5.21"/>
<circle cx="184.6" cy="512.7" r="5.21"/>
<circle cx="187.1" cy="513.5" r="5.21"/>
<circle cx="186.2" cy="514.0" r="5.21"/>
<circle cx="181.1" cy="513.5" r="5.21"/>
<circle cx="203.2" cy="514.3" r="5.21"/>
<circle cx="193.4" cy="512.6" r="5.21"/>
<circle cx="184.1" cy="513.5" r="5.21"/>
<circle cx="192.5" cy="514.6" r="5.21"/>
<circle cx="191.8" cy="513.0" r="5.21"/>
<circle cx="186.5" cy="514.8" r="5.21"/>
<circle cx="195.8" cy="512.2" r="5.21"/>
<circle cx="173.9" cy="514.9" r="5.21"/>
<circle cx="193.8" cy="514.3" r="5.21"/>
<circle cx="197.9" cy="511.8" r="5.21"/>
<circle cx="179.0" cy="515.0" r="5.21"/>
<circle cx="195.0" cy="513.3" r="5.21"/>
<circle cx="176.7" cy="514.7" r="5.21"/>
<circle cx="176.5" cy="515.0" r="5.21"/>
<circle cx="203.4" cy="512.5" r="5.21"/>
<circle cx="200.6" cy="511.7" r="5.21"/>
<circle cx="190.3" cy="514.7" r="5.21"/>
<circle cx="203.0" cy="514.5" r="5.21"/>
<circle cx="176.0" cy="514.3" r="5.21"/>
<circle cx="178.9" cy="514.7" r="5.21"/>
<circle cx="176.3" cy="515.2" r="5.21"/>
<circle cx="182.2" cy="514.1" r="5.21"/>
<circle cx="190.6" cy="512.5" r="5.21"/>
<circle cx="186.8" cy="515.0" r="5.21"/>
<circle cx="186.9" cy="513.9" r="5.21"/>
<circle cx="194.6" cy="512.0" r="5.21"/>
<circle cx="179.0" cy="514.2" r="5.21"/>
<circle cx="173.3" cy="514.5" r="5.21"/>
<circle cx="198.5" cy="511.6" r="5.21"/>
<circle cx="194.7" cy="511.9" r="5.21"/>
<circle cx="175.7" cy="515.1" r="5.21"/>
<circle cx="176.9" cy="514.1" r="5.21"/>
<circle cx="200.6" cy="512.7" r="5.21"/>
<circle cx="200.3" cy="512.1" r="5.21"/>
<circle cx="178.1" cy="515.0" r="5.21"/>
<circle cx="179.1" cy="514.0" r="5.21"/>
<circle cx="190.8" cy="513.1" r="5.21"/>
<circle cx="184.8" cy="514.4" r="5.21"/>
<circle cx="178.7" cy="514.8" r="5.21"/>
<circle cx="202.5" cy="511.4" r="5.21"/>
<circle cx="178.5" cy="515.1" r="5.21"/>
<circle cx="194.0" cy="514.8" r="5.21"/>
<circle cx="182.5" cy="514.4" r="5.21"/>
<circle cx="181.5" cy="514.7" r="5.21"/>
<circle cx="182.2" cy="513.2" r="5.21"/>
<circle cx="184.6" cy="513.6" r="5.21"/>
<circle cx="186.8" cy="513.4" r="5.21"/>
<circle cx="176.6" cy="514.2" r="5.21"/>
<circle cx="179.2" cy="514.8" r="5.21"/>
<circle cx="177.4" cy="515.0" r="5.21"/>
<circle cx="193.6" cy="513.0" r="5.21"/>
<circle cx="173.4" cy="514.1" r="5.21"/>
<circle cx="184.1" cy="513.3" r="5.21"/>
<circle cx="202.4" cy="512.7" r="5.21"/>
<circle cx="191.5" cy="512.8" r="5.21"/>
<circle cx="188.3" cy="513.1" r="5.21"/>
<circle cx="203.3" cy="513.0" r="5.21"/>
<circle cx="196.6" cy="511.8" r="5.21"/>
<circle cx="185.5" cy="513.7" r="5.21"/>
<circle cx="192.6" cy="514.0" r="5.21"/>
<circle cx="194.7" cy="513.5" r="5.21"/>
<circle cx="209.8" cy="511.4" r="5.21"/>
<circle cx="208.1" cy="514.3" r="5.21"/>
<circle cx="209.5" cy="511.9" r="5.21"/>
<circle cx="206.1" cy="512.4" r="5.21"/>
<circle cx="205.0" cy="513.6" r="5.21"/>
<circle cx="209.6" cy="511.6" r="5.21"/>
<circle cx="206.2" cy="513.6" r="5.21"/>
<circle cx="208.9" cy="512.0" r="5.21"/>
<circle cx="204.8" cy="512.1" r="5.21"/>
<circle cx="205.2" cy="511.2" r="5.21"/>
<circle cx="204.2" cy="512.3" r="5.21"/>
<circle cx="203.9" cy="512.9" r="5.21"/>
<circle cx="209.4" cy="511.4" r="5.21"/>
<circle cx="204.8" cy="513.8" r="5.21"/>
<circle cx="207.0" cy="514.1" r="5.21"/>
<circle cx="215.6" cy="513.2" r="5.21"/>
<circle cx="210.9" cy="513.6" r="5.21"/>
<circle cx="218.9" cy="513.0" r="5.21"/>
<circle cx="216.8" cy="513.0" r="5.21"/>
<circle cx="224.5" cy="509.6" r="5.21"/>
<circle cx="223.3" cy="509.5" r="5.21"/>
<circle cx="225.4" cy="509.8" r="5.21"/>
<circle cx="224.8" cy="509.5" r="5.21"/>
<circle cx="225.9" cy="507.8" r="5.21"/>
<circle cx="223.1" cy="507.5" r="5.21"/>
<circle cx="223.0" cy="507.0" r="5.21"/>
<circle cx="225.0" cy="508.2" r="5.21"/>
<circle cx="224.1" cy="506.8" r="5.21"/>
<circle cx="224.4" cy="508.2" r="5.21"/>
<circle cx="224.3" cy="508.8" r="5.21"/>
<circle cx="223.8" cy="507.6" r="5.21"/>
<circle cx="225.9" cy="509.9" r="5.21"/>
<circle cx="225.0" cy="507.6" r="5.21"/>
<circle cx="224.1" cy="507.9" r="5.21"/>
<circle cx="235.6" cy="510.0" r="5.21"/>
<circle cx="227.6" cy="510.2" r="5.21"/>
<circle cx="241.3" cy="510.0" r="5.21"/>
<circle cx="237.7" cy="509.9" r="5.21"/>
<circle cx="244.2" cy="508.8" r="5.21"/>
<circle cx="226.9" cy="509.0" r="5.21"/>
<circle cx="226.2" cy="508.7" r="5.21"/>
<circle cx="238.5" cy="509.2" r="5.21"/>
<circle cx="233.1" cy="508.5" r="5.21"/>
<circle cx="234.7" cy="509.2" r="5.21"/>
<circle cx="234.2" cy="509.6" r="5.21"/>
<circle cx="231.0" cy="509.0" r="5.21"/>
<circle cx="244.6" cy="510.0" r="5.21"/>
<circle cx="238.6" cy="508.8" r="5.21"/>
<circle cx="232.9" cy="509.1" r="5.21"/>
<circle cx="238.0" cy="510.1" r="5.21"/>
<circle cx="237.6" cy="509.0" r="5.21"/>
<circle cx="234.3" cy="510.2" r="5.21"/>
<circle cx="240.1" cy="508.6" r="5.21"/>
<circle cx="226.6" cy="510.0" r="5.21"/>
<circle cx="238.9" cy="509.9" r="5.21"/>
<circle cx="241.4" cy="508.4" r="5.21"/>
<circle cx="229.7" cy="510.2" r="5.21"/>
<circle cx="239.6" cy="509.3" r="5.21"/>
<circle cx="228.3" cy="509.9" r="5.21"/>
<circle cx="228.2" cy="510.2" r="5.21"/>
<circle cx="244.8" cy="509.0" r="5.21"/>
<circle cx="243.0" cy="508.5" r="5.21"/>
<circle cx="236.7" cy="510.2" r="5.21"/>
<circle cx="244.6" cy="510.1" r="5.21"/>
<circle cx="227.9" cy="509.5" r="5.21"/>
<circle cx="229.6" cy="509.9" r="5.21"/>
<circle cx="228.1" cy="510.3" r="5.21"/>
<circle cx="231.7" cy="509.5" r="5.21"/>
<circle cx="236.9" cy="508.6" r="5.21"/>
<circle cx="234.5" cy="510.3" r="5.21"/>
<circle cx="234.6" cy="509.5" r="5.21"/>
<circle cx="239.4" cy="508.4" r="5.21"/>
<circle cx="262.9" cy="506.6" r="5.21"/>
<circle cx="259.9" cy="506.4" r="5.21"/>
<circle cx="265.0" cy="507.1" r="5.21"/>
<circle cx="263.6" cy="506.4" r="5.21"/>
<circle cx="266.1" cy="503.3" r="5.21"/>
<circle cx="259.6" cy="502.6" r="5.21"/>
<circle cx="259.3" cy="501.6" r="5.21"/>
<circle cx="263.9" cy="504.0" r="5.21"/>
<circle cx="261.9" cy="501.3" r="5.21"/>
<circle cx="262.5" cy="503.9" r="5.21"/>
<circle cx="262.3" cy="505.0" r="5.21"/>
<circle cx="261.1" cy="502.8" r="5.21"/>
<circle cx="266.3" cy="507.3" r="5.21"/>
<circle cx="264.0" cy="502.9" r="5.21"/>
<circle cx="261.8" cy="503.4" r="5.21"/>
<circle cx="263.8" cy="507.1" r="5.21"/>
<circle cx="263.6" cy="503.5" r="5.21"/>
<circle cx="262.5" cy="500.6" r="5.21"/>
<circle cx="270.0" cy="504.0" r="5.21"/>
<circle cx="279.5" cy="504.0" r="5.21"/>
<circle cx="281.5" cy="503.0" r="5.21"/>
<circle cx="280.6" cy="503.6" r="5.21"/>
<circle cx="295.6" cy="496.0" r="5.21"/>
<circle cx="296.5" cy="501.6" r="5.21"/>
<circle cx="296.0" cy="501.2" r="5.21"/>
<circle cx="297.0" cy="502.0" r="5.21"/>
<circle cx="317.9" cy="505.0" r="5.21"/>
<circle cx="318.2" cy="491.7" r="5.21"/>
<circle cx="314.9" cy="491.6" r="5.21"/>
<circle cx="320.5" cy="492.1" r="5.21"/>
<circle cx="319.0" cy="491.5" r="5.21"/>
<circle cx="321.7" cy="488.3" r="5.21"/>
<circle cx="314.6" cy="488.4" r="5.21"/>
<circle cx="314.3" cy="487.5" r="5.21"/>
<circle cx="319.3" cy="489.2" r="5.21"/>
<circle cx="317.2" cy="486.9" r="5.21"/>
<circle cx="317.8" cy="489.3" r="5.21"/>
<circle cx="317.6" cy="490.3" r="5.21"/>
<circle cx="316.3" cy="488.4" r="5.21"/>
<circle cx="321.9" cy="492.3" r="5.21"/>
<circle cx="319.4" cy="488.1" r="5.21"/>
<circle cx="317.1" cy="488.8" r="5.21"/>
<circle cx="319.2" cy="492.1" r="5.21"/>
<circle cx="319.0" cy="488.8" r="5.21"/>
<circle cx="317.7" cy="491.9" r="5.21"/>
<circle cx="320.0" cy="487.5" r="5.21"/>
<circle cx="314.5" cy="491.0" r="5.21"/>
<circle cx="331.1" cy="491.5" r="5.21"/>
<circle cx="323.5" cy="491.5" r="5.21"/>
<circle cx="336.5" cy="492.0" r="5.21"/>
<circle cx="333.1" cy="491.3" r="5.21"/>
<circle cx="339.3" cy="488.2" r="5.21"/>
<circle cx="322.9" cy="487.9" r="5.21"/>
<circle cx="322.2" cy="486.9" r="5.21"/>
<circle cx="333.8" cy="489.0" r="5.21"/>
<circle cx="328.8" cy="486.6" r="5.21"/>
<circle cx="330.3" cy="489.0" r="5.21"/>
<circle cx="329.7" cy="490.1" r="5.21"/>
<circle cx="326.8" cy="488.0" r="5.21"/>
<circle cx="339.7" cy="492.1" r="5.21"/>
<circle cx="334.0" cy="487.9" r="5.21"/>
<circle cx="328.5" cy="488.5" r="5.21"/>
<circle cx="333.4" cy="492.0" r="5.21"/>
<circle cx="333.0" cy="488.6" r="5.21"/>
<circle cx="329.9" cy="491.8" r="5.21"/>
<circle cx="335.3" cy="487.3" r="5.21"/>
<circle cx="322.5" cy="490.9" r="5.21"/>
<circle cx="334.2" cy="491.3" r="5.21"/>
<circle cx="324.4" cy="479.1" r="5.21"/>
<circle cx="333.1" cy="480.4" r="5.21"/>
<circle cx="340.0" cy="482.9" r="5.21"/>
<circle cx="326.2" cy="495.4" r="5.21"/>
<circle cx="334.4" cy="499.8" r="5.21"/>
<circle cx="337.5" cy="493.5" r="5.21"/>
<circle cx="329.0" cy="483.0" r="5.21"/>
<circle cx="336.0" cy="485.0" r="5.21"/>
<circle cx="321.0" cy="484.0" r="5.21"/>
<circle cx="355.0" cy="485.4" r="5.21"/>
<circle cx="354.5" cy="486.0" r="5.21"/>
<circle cx="356.0" cy="485.0" r="5.21"/>
<circle cx="347.5" cy="489.0" r="5.21"/>
<circle cx="358.8" cy="486.0" r="5.21"/>
<circle cx="350.0" cy="487.0" r="5.21"/>
<circle cx="352.0" cy="485.5" r="5.21"/>
<circle cx="357.0" cy="487.5" r="5.21"/>
<circle cx="349.0" cy="486.0" r="5.21"/>
<circle cx="345.0" cy="489.5" r="5.21"/>
<circle cx="353.0" cy="488.5" r="5.21"/>
<circle cx="360.0" cy="484.0" r="5.21"/>
<circle cx="352.5" cy="494.8" r="5.21"/>
<circle cx="352.5" cy="499.1" r="5.21"/>
<circle cx="364.6" cy="476.6" r="5.21"/>
<circle cx="364.2" cy="477.0" r="5.21"/>
<circle cx="365.0" cy="476.2" r="5.21"/>
<circle cx="372.8" cy="467.5" r="5.21"/>
<circle cx="371.2" cy="482.0" r="5.21"/>
<circle cx="376.2" cy="491.0" r="5.21"/>
<circle cx="381.9" cy="492.9" r="5.21"/>
<circle cx="387.5" cy="489.8" r="5.21"/>
<circle cx="392.9" cy="471.5" r="5.21"/>
<circle cx="404.0" cy="459.0" r="5.21"/>
<circle cx="407.5" cy="470.0" r="5.21"/>
<circle cx="407.1" cy="470.4" r="5.21"/>
<circle cx="407.9" cy="469.6" r="5.21"/>
<circle cx="413.1" cy="469.0" r="5.21"/>
<circle cx="407.2" cy="475.9" r="5.21"/>
<circle cx="407.2" cy="479.6" r="5.21"/>
<circle cx="405.6" cy="487.1" r="5.21"/>
<circle cx="429.4" cy="478.6" r="5.21"/>
<circle cx="444.4" cy="470.2" r="5.21"/>
<circle cx="442.2" cy="479.9" r="5.21"/>
</g></g>
<rect x="706.1" y="456.15" width="45.60" height="61.37" fill="#D9D9D9"/>
<text transform="translate(719.90,486.94) rotate(90) scale(1,1.0)" text-anchor="middle" font-size="23.47" fill="#1A1A1A">VVS2</text>
<line x1="134.67" x2="142.0" y1="515.65" y2="515.65" stroke="#333" stroke-width="2.85"/>
<text transform="translate(128.90,523.85) scale(1,0.95)" text-anchor="end" font-size="23.47" fill="#4D4D4D">0</text>
<line x1="134.67" x2="142.0" y1="500.45" y2="500.45" stroke="#333" stroke-width="2.85"/>
<text transform="translate(128.90,508.65) scale(1,0.95)" text-anchor="end" font-size="23.47" fill="#4D4D4D">5000</text>
<line x1="134.67" x2="142.0" y1="485.25" y2="485.25" stroke="#333" stroke-width="2.85"/>
<text transform="translate(128.90,493.45) scale(1,0.95)" text-anchor="end" font-size="23.47" fill="#4D4D4D">10000</text>
<line x1="134.67" x2="142.0" y1="470.05" y2="470.05" stroke="#333" stroke-width="2.85"/>
<text transform="translate(128.90,478.25) scale(1,0.95)" text-anchor="end" font-size="23.47" fill="#4D4D4D">15000</text>
<rect x="142.0" y="532.18" width="564.10" height="61.37" fill="#EBEBEB"/>
<g clip-path="url(#cp6)">
<line x1="142.0" x2="706.1" y1="584.08" y2="584.08" stroke="#fff" stroke-width="1.43"/>
<line x1="142.0" x2="706.1" y1="568.88" y2="568.88" stroke="#fff" stroke-width="1.43"/>
<line x1="142.0" x2="706.1" y1="553.68" y2="553.68" stroke="#fff" stroke-width="1.43"/>
<line x1="142.0" x2="706.1" y1="538.48" y2="538.48" stroke="#fff" stroke-width="1.43"/>
<line x1="222.59" x2="222.59" y1="532.18" y2="593.55" stroke="#fff" stroke-width="1.43"/>
<line x1="405.74" x2="405.74" y1="532.18" y2="593.55" stroke="#fff" stroke-width="1.43"/>
<line x1="588.89" x2="588.89" y1="532.18" y2="593.55" stroke="#fff" stroke-width="1.43"/>
<line x1="142.0" x2="706.1" y1="591.68" y2="591.68" stroke="#fff" stroke-width="2.85"/>
<line x1="142.0" x2="706.1" y1="576.48" y2="576.48" stroke="#fff" stroke-width="2.85"/>
<line x1="142.0" x2="706.1" y1="561.28" y2="561.28" stroke="#fff" stroke-width="2.85"/>
<line x1="142.0" x2="706.1" y1="546.08" y2="546.08" stroke="#fff" stroke-width="2.85"/>
<line x1="314.16" x2="314.16" y1="532.18" y2="593.55" stroke="#fff" stroke-width="2.85"/>
<line x1="497.31" x2="497.31" y1="532.18" y2="593.55" stroke="#fff" stroke-width="2.85"/>
<line x1="680.46" x2="680.46" y1="532.18" y2="593.55" stroke="#fff" stroke-width="2.85"/>
<g fill="#C77CFF" stroke="#C77CFF" fill-opacity="0.5" stroke-opacity="0.5" stroke-width="1.89">
<circle cx="184.9" cy="590.6" r="5.21"/>
<circle cx="179.8" cy="590.3" r="5.21"/>
<circle cx="183.3" cy="588.9" r="5.21"/>
<circle cx="187.3" cy="590.1" r="5.21"/>
<circle cx="189.0" cy="589.2" r="5.21"/>
<circle cx="175.4" cy="589.6" r="5.21"/>
<circle cx="180.1" cy="589.6" r="5.21"/>
<circle cx="177.0" cy="591.3" r="5.21"/>
<circle cx="175.8" cy="589.7" r="5.21"/>
<circle cx="182.1" cy="590.8" r="5.21"/>
<circle cx="189.5" cy="590.4" r="5.21"/>
<circle cx="188.6" cy="590.7" r="5.21"/>
<circle cx="190.8" cy="588.6" r="5.21"/>
<circle cx="188.0" cy="588.6" r="5.21"/>
<circle cx="186.7" cy="591.0" r="5.21"/>
<circle cx="174.6" cy="590.3" r="5.21"/>
<circle cx="177.6" cy="590.3" r="5.21"/>
<circle cx="188.2" cy="591.0" r="5.21"/>
<circle cx="184.7" cy="590.8" r="5.21"/>
<circle cx="187.3" cy="589.6" r="5.21"/>
<circle cx="177.4" cy="591.2" r="5.21"/>
<circle cx="189.1" cy="589.6" r="5.21"/>
<circle cx="190.1" cy="589.3" r="5.21"/>
<circle cx="173.5" cy="590.6" r="5.21"/>
<circle cx="178.5" cy="590.3" r="5.21"/>
<circle cx="174.6" cy="590.1" r="5.21"/>
<circle cx="183.3" cy="589.1" r="5.21"/>
<circle cx="190.2" cy="590.2" r="5.21"/>
<circle cx="175.4" cy="590.6" r="5.21"/>
<circle cx="177.0" cy="590.5" r="5.21"/>
<circle cx="187.9" cy="588.7" r="5.21"/>
<circle cx="182.3" cy="591.2" r="5.21"/>
<circle cx="187.7" cy="589.4" r="5.21"/>
<circle cx="186.9" cy="589.3" r="5.21"/>
<circle cx="185.0" cy="590.8" r="5.21"/>
<circle cx="187.0" cy="590.3" r="5.21"/>
<circle cx="179.9" cy="591.3" r="5.21"/>
<circle cx="181.3" cy="589.7" r="5.21"/>
<circle cx="178.9" cy="590.5" r="5.21"/>
<circle cx="191.6" cy="588.4" r="5.21"/>
<circle cx="192.8" cy="588.9" r="5.21"/>
<circle cx="194.6" cy="590.4" r="5.21"/>
<circle cx="193.9" cy="588.3" r="5.21"/>
<circle cx="200.2" cy="589.1" r="5.21"/>
<circle cx="199.6" cy="589.1" r="5.21"/>
<circle cx="193.6" cy="590.3" r="5.21"/>
<circle cx="206.6" cy="589.4" r="5.21"/>
<circle cx="196.7" cy="588.9" r="5.21"/>
<circle cx="207.9" cy="587.8" r="5.21"/>
<circle cx="205.3" cy="587.0" r="5.21"/>
<circle cx="192.0" cy="589.3" r="5.21"/>
<circle cx="195.8" cy="589.4" r="5.21"/>
<circle cx="198.0" cy="589.2" r="5.21"/>
<circle cx="197.3" cy="587.9" r="5.21"/>
<circle cx="194.3" cy="589.7" r="5.21"/>
<circle cx="197.6" cy="589.2" r="5.21"/>
<circle cx="195.3" cy="588.3" r="5.21"/>
<circle cx="196.8" cy="589.9" r="5.21"/>
<circle cx="209.7" cy="589.0" r="5.21"/>
<circle cx="206.3" cy="588.1" r="5.21"/>
<circle cx="204.4" cy="590.0" r="5.21"/>
<circle cx="209.6" cy="589.7" r="5.21"/>
<circle cx="209.3" cy="589.8" r="5.21"/>
<circle cx="196.3" cy="589.4" r="5.21"/>
<circle cx="195.0" cy="588.0" r="5.21"/>
<circle cx="203.1" cy="588.5" r="5.21"/>
<circle cx="198.0" cy="589.3" r="5.21"/>
<circle cx="199.6" cy="589.4" r="5.21"/>
<circle cx="206.4" cy="588.3" r="5.21"/>
<circle cx="203.4" cy="589.4" r="5.21"/>
<circle cx="205.2" cy="588.9" r="5.21"/>
<circle cx="204.4" cy="587.3" r="5.21"/>
<circle cx="203.9" cy="587.7" r="5.21"/>
<circle cx="202.9" cy="587.7" r="5.21"/>
<circle cx="191.6" cy="590.4" r="5.21"/>
<circle cx="193.8" cy="589.9" r="5.21"/>
<circle cx="198.5" cy="590.2" r="5.21"/>
<circle cx="200.6" cy="590.1" r="5.21"/>
<circle cx="197.1" cy="589.1" r="5.21"/>
<circle cx="199.1" cy="590.0" r="5.21"/>
<circle cx="213.0" cy="586.9" r="5.21"/>
<circle cx="220.9" cy="583.8" r="5.21"/>
<circle cx="221.8" cy="585.5" r="5.21"/>
<circle cx="221.8" cy="584.2" r="5.21"/>
<circle cx="214.9" cy="586.4" r="5.21"/>
<circle cx="211.2" cy="588.7" r="5.21"/>
<circle cx="212.2" cy="586.9" r="5.21"/>
<circle cx="218.3" cy="586.4" r="5.21"/>
<circle cx="214.0" cy="587.8" r="5.21"/>
<circle cx="221.0" cy="584.4" r="5.21"/>
<circle cx="212.6" cy="586.5" r="5.21"/>
<circle cx="224.3" cy="585.6" r="5.21"/>
<circle cx="217.6" cy="586.2" r="5.21"/>
<circle cx="218.3" cy="587.4" r="5.21"/>
<circle cx="219.8" cy="585.3" r="5.21"/>
<circle cx="223.9" cy="584.6" r="5.21"/>
<circle cx="219.6" cy="586.3" r="5.21"/>
<circle cx="224.9" cy="584.1" r="5.21"/>
<circle cx="215.4" cy="585.4" r="5.21"/>
<circle cx="216.3" cy="588.7" r="5.21"/>
<circle cx="210.9" cy="588.2" r="5.21"/>
<circle cx="221.5" cy="587.5" r="5.21"/>
<circle cx="224.5" cy="583.5" r="5.21"/>
<circle cx="220.6" cy="585.7" r="5.21"/>
<circle cx="218.9" cy="585.3" r="5.21"/>
<circle cx="214.5" cy="585.7" r="5.21"/>
<circle cx="216.8" cy="587.7" r="5.21"/>
<circle cx="217.3" cy="587.3" r="5.21"/>
<circle cx="224.8" cy="586.1" r="5.21"/>
<circle cx="210.4" cy="589.3" r="5.21"/>
<circle cx="215.2" cy="587.8" r="5.21"/>
<circle cx="219.6" cy="585.7" r="5.21"/>
<circle cx="215.1" cy="586.3" r="5.21"/>
<circle cx="229.6" cy="585.0" r="5.21"/>
<circle cx="233.6" cy="585.9" r="5.21"/>
<circle cx="225.0" cy="584.8" r="5.21"/>
<circle cx="232.5" cy="585.4" r="5.21"/>
<circle cx="231.8" cy="584.3" r="5.21"/>
<circle cx="226.0" cy="582.9" r="5.21"/>
<circle cx="225.1" cy="585.5" r="5.21"/>
<circle cx="232.9" cy="582.8" r="5.21"/>
<circle cx="225.0" cy="583.6" r="5.21"/>
<circle cx="225.2" cy="585.2" r="5.21"/>
<circle cx="230.9" cy="583.2" r="5.21"/>
<circle cx="226.1" cy="583.9" r="5.21"/>
<circle cx="226.9" cy="583.3" r="5.21"/>
<circle cx="225.6" cy="586.0" r="5.21"/>
<circle cx="233.9" cy="585.2" r="5.21"/>
<circle cx="227.7" cy="583.4" r="5.21"/>
<circle cx="226.6" cy="585.9" r="5.21"/>
<circle cx="231.2" cy="583.2" r="5.21"/>
<circle cx="232.6" cy="585.4" r="5.21"/>
<circle cx="229.9" cy="584.3" r="5.21"/>
<circle cx="230.4" cy="583.6" r="5.21"/>
<circle cx="229.7" cy="586.2" r="5.21"/>
<circle cx="241.2" cy="581.0" r="5.21"/>
<circle cx="241.2" cy="587.2" r="5.21"/>
<circle cx="235.0" cy="578.5" r="5.21"/>
<circle cx="238.0" cy="584.0" r="5.21"/>
<circle cx="249.4" cy="581.6" r="5.21"/>
<circle cx="263.5" cy="582.6" r="5.21"/>
<circle cx="260.9" cy="581.2" r="5.21"/>
<circle cx="262.6" cy="577.4" r="5.21"/>
<circle cx="264.6" cy="581.4" r="5.21"/>
<circle cx="265.5" cy="579.0" r="5.21"/>
<circle cx="258.7" cy="578.1" r="5.21"/>
<circle cx="261.1" cy="578.8" r="5.21"/>
<circle cx="259.5" cy="584.1" r="5.21"/>
<circle cx="258.9" cy="578.3" r="5.21"/>
<circle cx="262.1" cy="583.0" r="5.21"/>
<circle cx="265.7" cy="582.4" r="5.21"/>
<circle cx="265.3" cy="583.3" r="5.21"/>
<circle cx="266.4" cy="577.7" r="5.21"/>
<circle cx="265.0" cy="577.2" r="5.21"/>
<circle cx="264.3" cy="584.0" r="5.21"/>
<circle cx="258.3" cy="580.3" r="5.21"/>
<circle cx="280.0" cy="579.8" r="5.21"/>
<circle cx="282.5" cy="580.1" r="5.21"/>
<circle cx="292.5" cy="578.2" r="5.21"/>
<circle cx="295.9" cy="571.0" r="5.21"/>
<circle cx="313.8" cy="559.5" r="5.21"/>
<circle cx="313.8" cy="567.6" r="5.21"/>
<circle cx="314.3" cy="567.0" r="5.21"/>
<circle cx="320.0" cy="565.8" r="5.21"/>
<circle cx="319.5" cy="566.3" r="5.21"/>
<circle cx="322.5" cy="557.0" r="5.21"/>
<circle cx="323.5" cy="553.9" r="5.21"/>
<circle cx="318.0" cy="563.9" r="5.21"/>
<circle cx="325.0" cy="562.0" r="5.21"/>
<circle cx="328.8" cy="563.9" r="5.21"/>
<circle cx="331.2" cy="565.1" r="5.21"/>
<circle cx="336.2" cy="565.8" r="5.21"/>
<circle cx="338.0" cy="562.0" r="5.21"/>
<circle cx="338.5" cy="561.5" r="5.21"/>
<circle cx="340.0" cy="563.2" r="5.21"/>
<circle cx="337.5" cy="547.0" r="5.21"/>
<circle cx="349.0" cy="546.0" r="5.21"/>
<circle cx="347.5" cy="563.2" r="5.21"/>
<circle cx="351.2" cy="557.6" r="5.21"/>
<circle cx="352.5" cy="560.1" r="5.21"/>
<circle cx="353.0" cy="559.6" r="5.21"/>
<circle cx="361.9" cy="558.2" r="5.21"/>
<circle cx="361.5" cy="558.7" r="5.21"/>
<circle cx="362.4" cy="557.8" r="5.21"/>
<circle cx="365.0" cy="557.6" r="5.21"/>
<circle cx="372.8" cy="553.0" r="5.21"/>
<circle cx="407.8" cy="544.6" r="5.21"/>
<circle cx="406.2" cy="561.9" r="5.21"/>
<circle cx="407.8" cy="563.1" r="5.21"/>
<circle cx="420.4" cy="556.6" r="5.21"/>
</g></g>
<rect x="706.1" y="532.18" width="45.60" height="61.37" fill="#D9D9D9"/>
<text transform="translate(719.90,562.97) rotate(90) scale(1,1.0)" text-anchor="middle" font-size="23.47" fill="#1A1A1A">VVS1</text>
<line x1="134.67" x2="142.0" y1="591.68" y2="591.68" stroke="#333" stroke-width="2.85"/>
<text transform="translate(128.90,599.88) scale(1,0.95)" text-anchor="end" font-size="23.47" fill="#4D4D4D">0</text>
<line x1="134.67" x2="142.0" y1="576.48" y2="576.48" stroke="#333" stroke-width="2.85"/>
<text transform="translate(128.90,584.68) scale(1,0.95)" text-anchor="end" font-size="23.47" fill="#4D4D4D">5000</text>
<line x1="134.67" x2="142.0" y1="561.28" y2="561.28" stroke="#333" stroke-width="2.85"/>
<text transform="translate(128.90,569.48) scale(1,0.95)" text-anchor="end" font-size="23.47" fill="#4D4D4D">10000</text>
<line x1="134.67" x2="142.0" y1="546.08" y2="546.08" stroke="#333" stroke-width="2.85"/>
<text transform="translate(128.90,554.28) scale(1,0.95)" text-anchor="end" font-size="23.47" fill="#4D4D4D">15000</text>
<rect x="142.0" y="608.21" width="564.10" height="61.37" fill="#EBEBEB"/>
<g clip-path="url(#cp7)">
<line x1="142.0" x2="706.1" y1="660.11" y2="660.11" stroke="#fff" stroke-width="1.43"/>
<line x1="142.0" x2="706.1" y1="644.91" y2="644.91" stroke="#fff" stroke-width="1.43"/>
<line x1="142.0" x2="706.1" y1="629.71" y2="629.71" stroke="#fff" stroke-width="1.43"/>
<line x1="142.0" x2="706.1" y1="614.51" y2="614.51" stroke="#fff" stroke-width="1.43"/>
<line x1="222.59" x2="222.59" y1="608.21" y2="669.58" stroke="#fff" stroke-width="1.43"/>
<line x1="405.74" x2="405.74" y1="608.21" y2="669.58" stroke="#fff" stroke-width="1.43"/>
<line x1="588.89" x2="588.89" y1="608.21" y2="669.58" stroke="#fff" stroke-width="1.43"/>
<line x1="142.0" x2="706.1" y1="667.71" y2="667.71" stroke="#fff" stroke-width="2.85"/>
<line x1="142.0" x2="706.1" y1="652.51" y2="652.51" stroke="#fff" stroke-width="2.85"/>
<line x1="142.0" x2="706.1" y1="637.31" y2="637.31" stroke="#fff" stroke-width="2.85"/>
<line x1="142.0" x2="706.1" y1="622.11" y2="622.11" stroke="#fff" stroke-width="2.85"/>
<line x1="314.16" x2="314.16" y1="608.21" y2="669.58" stroke="#fff" stroke-width="2.85"/>
<line x1="497.31" x2="497.31" y1="608.21" y2="669.58" stroke="#fff" stroke-width="2.85"/>
<line x1="680.46" x2="680.46" y1="608.21" y2="669.58" stroke="#fff" stroke-width="2.85"/>
<g fill="#FF61CC" stroke="#FF61CC" fill-opacity="0.5" stroke-opacity="0.5" stroke-width="1.89">
<circle cx="187.9" cy="666.3" r="5.21"/>
<circle cx="182.8" cy="665.5" r="5.21"/>
<circle cx="185.0" cy="665.9" r="5.21"/>
<circle cx="183.6" cy="667.3" r="5.21"/>
<circle cx="183.7" cy="665.8" r="5.21"/>
<circle cx="181.2" cy="666.7" r="5.21"/>
<circle cx="177.8" cy="667.3" r="5.21"/>
<circle cx="186.4" cy="666.5" r="5.21"/>
<circle cx="178.2" cy="667.3" r="5.21"/>
<circle cx="184.1" cy="665.4" r="5.21"/>
<circle cx="179.6" cy="666.3" r="5.21"/>
<circle cx="184.8" cy="666.8" r="5.21"/>
<circle cx="187.7" cy="667.1" r="5.21"/>
<circle cx="179.2" cy="666.4" r="5.21"/>
<circle cx="184.5" cy="666.7" r="5.21"/>
<circle cx="183.6" cy="666.6" r="5.21"/>
<circle cx="177.2" cy="667.1" r="5.21"/>
<circle cx="180.0" cy="665.8" r="5.21"/>
<circle cx="186.7" cy="666.9" r="5.21"/>
<circle cx="177.6" cy="667.2" r="5.21"/>
<circle cx="183.6" cy="665.7" r="5.21"/>
<circle cx="187.5" cy="666.2" r="5.21"/>
<circle cx="189.1" cy="666.1" r="5.21"/>
<circle cx="177.6" cy="666.7" r="5.21"/>
<circle cx="188.2" cy="666.2" r="5.21"/>
<circle cx="185.0" cy="665.3" r="5.21"/>
<circle cx="180.8" cy="665.7" r="5.21"/>
<circle cx="178.6" cy="666.4" r="5.21"/>
<circle cx="188.6" cy="665.4" r="5.21"/>
<circle cx="187.6" cy="664.9" r="5.21"/>
<circle cx="180.7" cy="667.5" r="5.21"/>
<circle cx="175.6" cy="666.8" r="5.21"/>
<circle cx="183.0" cy="665.8" r="5.21"/>
<circle cx="182.8" cy="666.0" r="5.21"/>
<circle cx="199.5" cy="665.7" r="5.21"/>
<circle cx="201.8" cy="666.5" r="5.21"/>
<circle cx="203.7" cy="664.8" r="5.21"/>
<circle cx="193.9" cy="666.4" r="5.21"/>
<circle cx="197.4" cy="666.6" r="5.21"/>
<circle cx="203.6" cy="664.1" r="5.21"/>
<circle cx="200.1" cy="666.2" r="5.21"/>
<circle cx="202.1" cy="664.8" r="5.21"/>
<circle cx="203.2" cy="666.5" r="5.21"/>
<circle cx="193.8" cy="665.6" r="5.21"/>
<circle cx="205.5" cy="664.2" r="5.21"/>
<circle cx="196.2" cy="665.3" r="5.21"/>
<circle cx="198.6" cy="666.4" r="5.21"/>
<circle cx="204.6" cy="666.2" r="5.21"/>
<circle cx="195.0" cy="666.0" r="5.21"/>
<circle cx="205.5" cy="664.7" r="5.21"/>
<circle cx="198.9" cy="666.3" r="5.21"/>
<circle cx="203.7" cy="664.6" r="5.21"/>
<circle cx="191.5" cy="664.5" r="5.21"/>
<circle cx="200.6" cy="666.0" r="5.21"/>
<circle cx="192.7" cy="666.8" r="5.21"/>
<circle cx="195.0" cy="666.5" r="5.21"/>
<circle cx="198.9" cy="665.4" r="5.21"/>
<circle cx="201.6" cy="665.4" r="5.21"/>
<circle cx="195.8" cy="665.8" r="5.21"/>
<circle cx="193.5" cy="664.5" r="5.21"/>
<circle cx="191.2" cy="666.5" r="5.21"/>
<circle cx="201.6" cy="665.3" r="5.21"/>
<circle cx="203.0" cy="665.4" r="5.21"/>
<circle cx="193.1" cy="666.5" r="5.21"/>
<circle cx="199.5" cy="664.1" r="5.21"/>
<circle cx="195.9" cy="664.5" r="5.21"/>
<circle cx="191.3" cy="666.7" r="5.21"/>
<circle cx="214.4" cy="662.6" r="5.21"/>
<circle cx="219.0" cy="663.3" r="5.21"/>
<circle cx="214.1" cy="662.3" r="5.21"/>
<circle cx="216.2" cy="662.8" r="5.21"/>
<circle cx="214.9" cy="664.6" r="5.21"/>
<circle cx="214.9" cy="662.7" r="5.21"/>
<circle cx="212.5" cy="663.8" r="5.21"/>
<circle cx="209.2" cy="664.7" r="5.21"/>
<circle cx="217.6" cy="663.6" r="5.21"/>
<circle cx="209.6" cy="664.6" r="5.21"/>
<circle cx="227.2" cy="661.0" r="5.21"/>
<circle cx="225.1" cy="659.0" r="5.21"/>
<circle cx="226.0" cy="660.1" r="5.21"/>
<circle cx="225.4" cy="662.3" r="5.21"/>
<circle cx="225.4" cy="659.7" r="5.21"/>
<circle cx="224.4" cy="660.9" r="5.21"/>
<circle cx="223.0" cy="661.7" r="5.21"/>
<circle cx="226.6" cy="661.2" r="5.21"/>
<circle cx="223.1" cy="661.6" r="5.21"/>
<circle cx="225.6" cy="659.1" r="5.21"/>
<circle cx="223.7" cy="659.8" r="5.21"/>
<circle cx="233.8" cy="653.9" r="5.21"/>
<circle cx="243.1" cy="657.0" r="5.21"/>
<circle cx="240.0" cy="662.0" r="5.21"/>
<circle cx="260.0" cy="657.6" r="5.21"/>
<circle cx="263.8" cy="655.1" r="5.21"/>
<circle cx="262.0" cy="656.2" r="5.21"/>
<circle cx="276.9" cy="655.1" r="5.21"/>
<circle cx="276.5" cy="655.5" r="5.21"/>
<circle cx="326.7" cy="612.7" r="5.21"/>
<circle cx="315.8" cy="635.2" r="5.21"/>
<circle cx="315.4" cy="635.6" r="5.21"/>
<circle cx="316.2" cy="634.8" r="5.21"/>
<circle cx="320.8" cy="634.3" r="5.21"/>
<circle cx="330.5" cy="631.3" r="5.21"/>
<circle cx="337.8" cy="628.5" r="5.21"/>
<circle cx="365.0" cy="632.7" r="5.21"/>
<circle cx="356.3" cy="641.5" r="5.21"/>
<circle cx="350.5" cy="646.0" r="5.21"/>
<circle cx="411.2" cy="638.2" r="5.21"/>
</g></g>
<rect x="706.1" y="608.21" width="45.60" height="61.37" fill="#D9D9D9"/>
<text transform="translate(719.90,639.00) rotate(90) scale(1,1.0)" text-anchor="middle" font-size="23.47" fill="#1A1A1A">IF</text>
<line x1="134.67" x2="142.0" y1="667.71" y2="667.71" stroke="#333" stroke-width="2.85"/>
<text transform="translate(128.90,675.91) scale(1,0.95)" text-anchor="end" font-size="23.47" fill="#4D4D4D">0</text>
<line x1="134.67" x2="142.0" y1="652.51" y2="652.51" stroke="#333" stroke-width="2.85"/>
<text transform="translate(128.90,660.71) scale(1,0.95)" text-anchor="end" font-size="23.47" fill="#4D4D4D">5000</text>
<line x1="134.67" x2="142.0" y1="637.31" y2="637.31" stroke="#333" stroke-width="2.85"/>
<text transform="translate(128.90,645.51) scale(1,0.95)" text-anchor="end" font-size="23.47" fill="#4D4D4D">10000</text>
<line x1="134.67" x2="142.0" y1="622.11" y2="622.11" stroke="#333" stroke-width="2.85"/>
<text transform="translate(128.90,630.31) scale(1,0.95)" text-anchor="end" font-size="23.47" fill="#4D4D4D">15000</text>
<line x1="314.16" x2="314.16" y1="669.58" y2="676.91" stroke="#333" stroke-width="2.85"/>
<text transform="translate(314.16,698.98) scale(1,0.95)" text-anchor="middle" font-size="23.47" fill="#4D4D4D">1</text>
<line x1="497.31" x2="497.31" y1="669.58" y2="676.91" stroke="#333" stroke-width="2.85"/>
<text transform="translate(497.31,698.98) scale(1,0.95)" text-anchor="middle" font-size="23.47" fill="#4D4D4D">2</text>
<line x1="680.46" x2="680.46" y1="669.58" y2="676.91" stroke="#333" stroke-width="2.85"/>
<text transform="translate(680.46,698.98) scale(1,0.95)" text-anchor="middle" font-size="23.47" fill="#4D4D4D">3</text>
<text transform="translate(424.05,732.70) scale(1,1.0)" text-anchor="middle" font-size="29.33" fill="#000">carat</text>
<text transform="translate(50.50,372.79) rotate(-90) scale(1,1.0)" text-anchor="middle" font-size="29.33" fill="#000">price</text>
<text transform="translate(795.10,191.00) scale(1,1.0)" font-size="29.33" fill="#000">clarity</text>
<rect x="795.4" y="209.20" width="46.08" height="46.08" fill="#F2F2F2"/>
<circle cx="818.45" cy="232.24" r="5.21" fill="#F8766D" stroke="#F8766D" fill-opacity="0.5" stroke-opacity="0.5" stroke-width="1.89"/>
<text transform="translate(856.90,240.54) scale(1,1.0)" font-size="23.47" fill="#000">I1</text>
<rect x="795.4" y="255.28" width="46.08" height="46.08" fill="#F2F2F2"/>
<circle cx="818.45" cy="278.32" r="5.21" fill="#CD9600" stroke="#CD9600" fill-opacity="0.5" stroke-opacity="0.5" stroke-width="1.89"/>
<text transform="translate(856.90,286.62) scale(1,1.0)" font-size="23.47" fill="#000">SI2</text>
<rect x="795.4" y="301.36" width="46.08" height="46.08" fill="#F2F2F2"/>
<circle cx="818.45" cy="324.40" r="5.21" fill="#7CAE00" stroke="#7CAE00" fill-opacity="0.5" stroke-opacity="0.5" stroke-width="1.89"/>
<text transform="translate(856.90,332.70) scale(1,1.0)" font-size="23.47" fill="#000">SI1</text>
<rect x="795.4" y="347.44" width="46.08" height="46.08" fill="#F2F2F2"/>
<circle cx="818.45" cy="370.48" r="5.21" fill="#00BE67" stroke="#00BE67" fill-opacity="0.5" stroke-opacity="0.5" stroke-width="1.89"/>
<text transform="translate(856.90,378.78) scale(1,1.0)" font-size="23.47" fill="#000">VS2</text>
<rect x="795.4" y="393.52" width="46.08" height="46.08" fill="#F2F2F2"/>
<circle cx="818.45" cy="416.56" r="5.21" fill="#00BFC4" stroke="#00BFC4" fill-opacity="0.5" stroke-opacity="0.5" stroke-width="1.89"/>
<text transform="translate(856.90,424.86) scale(1,1.0)" font-size="23.47" fill="#000">VS1</text>
<rect x="795.4" y="439.60" width="46.08" height="46.08" fill="#F2F2F2"/>
<circle cx="818.45" cy="462.64" r="5.21" fill="#00A9FF" stroke="#00A9FF" fill-opacity="0.5" stroke-opacity="0.5" stroke-width="1.89"/>
<text transform="translate(856.90,470.94) scale(1,1.0)" font-size="23.47" fill="#000">VVS2</text>
<rect x="795.4" y="485.68" width="46.08" height="46.08" fill="#F2F2F2"/>
<circle cx="818.45" cy="508.72" r="5.21" fill="#C77CFF" stroke="#C77CFF" fill-opacity="0.5" stroke-opacity="0.5" stroke-width="1.89"/>
<text transform="translate(856.90,517.02) scale(1,1.0)" font-size="23.47" fill="#000">VVS1</text>
<rect x="795.4" y="531.76" width="46.08" height="46.08" fill="#F2F2F2"/>
<circle cx="818.45" cy="554.80" r="5.21" fill="#FF61CC" stroke="#FF61CC" fill-opacity="0.5" stroke-opacity="0.5" stroke-width="1.89"/>
<text transform="translate(856.90,563.10) scale(1,1.0)" font-size="23.47" fill="#000">IF</text>
</svg></body></html>
